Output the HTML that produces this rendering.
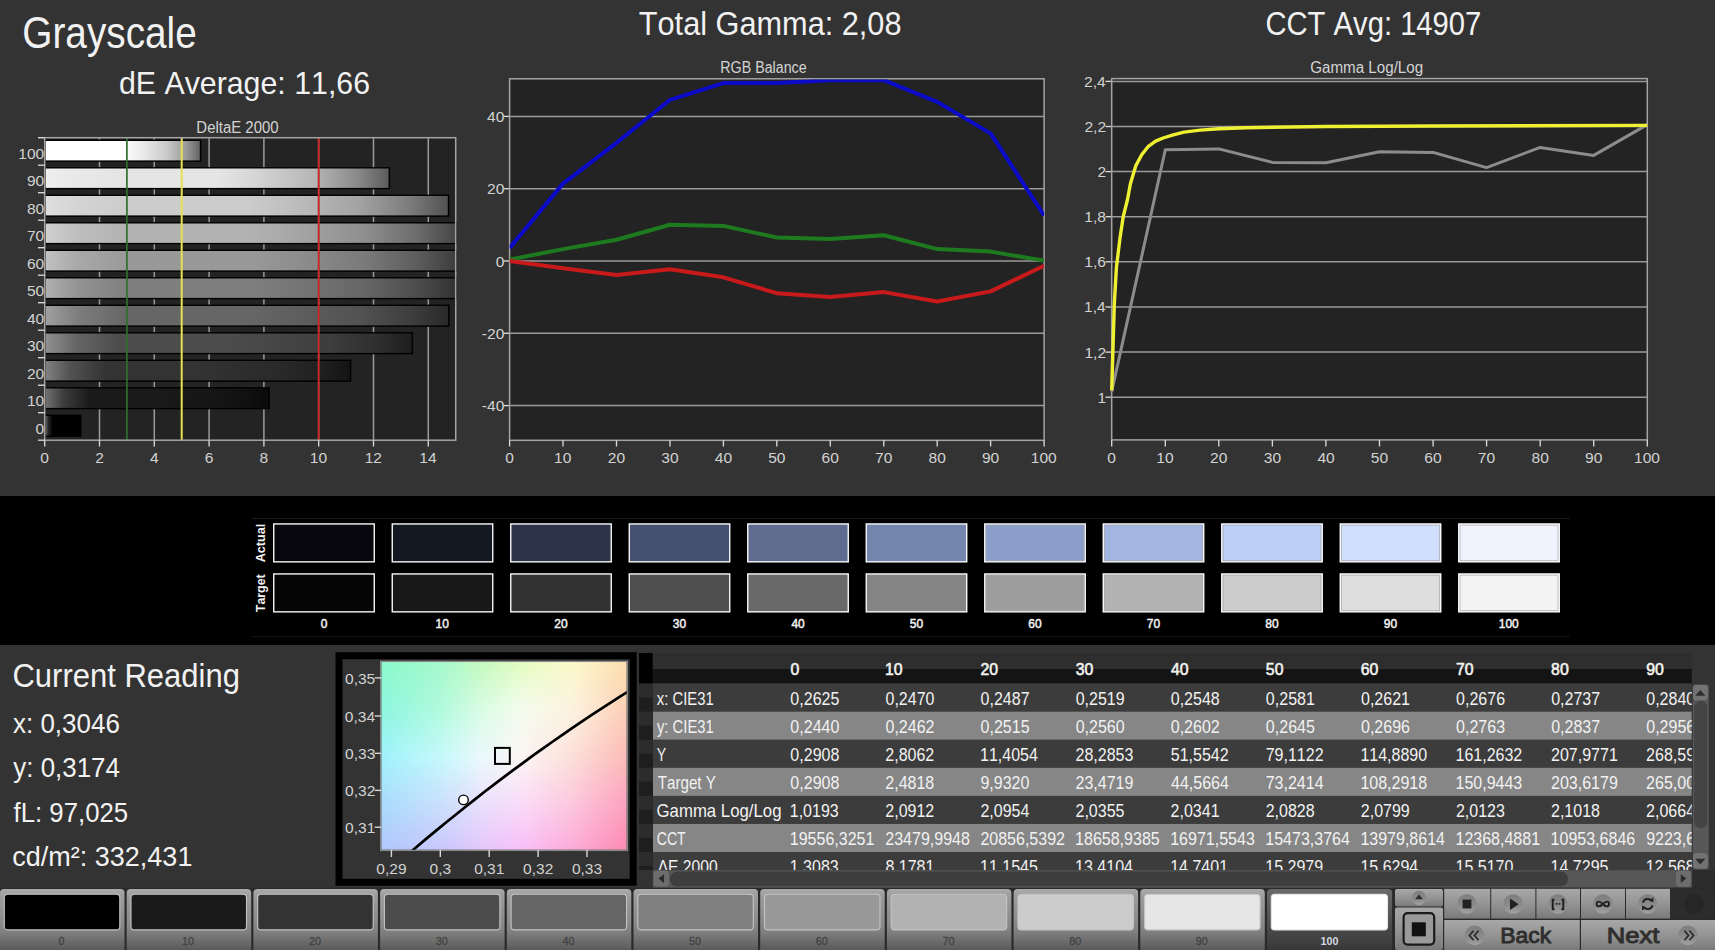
<!DOCTYPE html>
<html><head><meta charset="utf-8"><title>Grayscale</title>
<style>
html,body{margin:0;padding:0;background:#333;overflow:hidden;}
svg{display:block;}
text{font-family:"Liberation Sans",sans-serif;font-kerning:none;}
</style></head><body>
<svg width="1715" height="950" viewBox="0 0 1715 950">
<defs><linearGradient id="bg0" x1="0" x2="1" y1="0" y2="0"><stop offset="0" stop-color="#ffffff"/><stop offset="0.08" stop-color="#ffffff"/><stop offset="0.2" stop-color="#ffffff"/><stop offset="0.5" stop-color="#ffffff"/><stop offset="0.61" stop-color="#ededed"/><stop offset="0.78" stop-color="#cccccc"/><stop offset="0.91" stop-color="#999999"/><stop offset="1" stop-color="#666666"/></linearGradient><linearGradient id="bg1" x1="0" x2="1" y1="0" y2="0"><stop offset="0" stop-color="#efefef"/><stop offset="0.08" stop-color="#e9e9e9"/><stop offset="0.2" stop-color="#e5e5e5"/><stop offset="0.5" stop-color="#e5e5e5"/><stop offset="0.61" stop-color="#d5d5d5"/><stop offset="0.78" stop-color="#b7b7b7"/><stop offset="0.91" stop-color="#898989"/><stop offset="1" stop-color="#5c5c5c"/></linearGradient><linearGradient id="bg2" x1="0" x2="1" y1="0" y2="0"><stop offset="0" stop-color="#dfdfdf"/><stop offset="0.08" stop-color="#d4d4d4"/><stop offset="0.2" stop-color="#cccccc"/><stop offset="0.5" stop-color="#cccccc"/><stop offset="0.61" stop-color="#bebebe"/><stop offset="0.78" stop-color="#a3a3a3"/><stop offset="0.91" stop-color="#7a7a7a"/><stop offset="1" stop-color="#525252"/></linearGradient><linearGradient id="bg3" x1="0" x2="1" y1="0" y2="0"><stop offset="0" stop-color="#cfcfcf"/><stop offset="0.08" stop-color="#bebebe"/><stop offset="0.2" stop-color="#b2b2b2"/><stop offset="0.5" stop-color="#b2b2b2"/><stop offset="0.61" stop-color="#a6a6a6"/><stop offset="0.78" stop-color="#8e8e8e"/><stop offset="0.91" stop-color="#6b6b6b"/><stop offset="1" stop-color="#474747"/></linearGradient><linearGradient id="bg4" x1="0" x2="1" y1="0" y2="0"><stop offset="0" stop-color="#c0c0c0"/><stop offset="0.08" stop-color="#a8a8a8"/><stop offset="0.2" stop-color="#999999"/><stop offset="0.5" stop-color="#999999"/><stop offset="0.61" stop-color="#8e8e8e"/><stop offset="0.78" stop-color="#7a7a7a"/><stop offset="0.91" stop-color="#5c5c5c"/><stop offset="1" stop-color="#3d3d3d"/></linearGradient><linearGradient id="bg5" x1="0" x2="1" y1="0" y2="0"><stop offset="0" stop-color="#b0b0b0"/><stop offset="0.08" stop-color="#929292"/><stop offset="0.2" stop-color="#7f7f7f"/><stop offset="0.5" stop-color="#7f7f7f"/><stop offset="0.61" stop-color="#767676"/><stop offset="0.78" stop-color="#666666"/><stop offset="0.91" stop-color="#4c4c4c"/><stop offset="1" stop-color="#333333"/></linearGradient><linearGradient id="bg6" x1="0" x2="1" y1="0" y2="0"><stop offset="0" stop-color="#a0a0a0"/><stop offset="0.08" stop-color="#7d7d7d"/><stop offset="0.2" stop-color="#666666"/><stop offset="0.5" stop-color="#666666"/><stop offset="0.61" stop-color="#5f5f5f"/><stop offset="0.78" stop-color="#525252"/><stop offset="0.91" stop-color="#3d3d3d"/><stop offset="1" stop-color="#292929"/></linearGradient><linearGradient id="bg7" x1="0" x2="1" y1="0" y2="0"><stop offset="0" stop-color="#909090"/><stop offset="0.08" stop-color="#676767"/><stop offset="0.2" stop-color="#4c4c4c"/><stop offset="0.5" stop-color="#4c4c4c"/><stop offset="0.61" stop-color="#474747"/><stop offset="0.78" stop-color="#3d3d3d"/><stop offset="0.91" stop-color="#2e2e2e"/><stop offset="1" stop-color="#1e1e1e"/></linearGradient><linearGradient id="bg8" x1="0" x2="1" y1="0" y2="0"><stop offset="0" stop-color="#818181"/><stop offset="0.08" stop-color="#525252"/><stop offset="0.2" stop-color="#333333"/><stop offset="0.5" stop-color="#333333"/><stop offset="0.61" stop-color="#2f2f2f"/><stop offset="0.78" stop-color="#292929"/><stop offset="0.91" stop-color="#1f1f1f"/><stop offset="1" stop-color="#141414"/></linearGradient><linearGradient id="bg9" x1="0" x2="1" y1="0" y2="0"><stop offset="0" stop-color="#717171"/><stop offset="0.08" stop-color="#3c3c3c"/><stop offset="0.2" stop-color="#1a1a1a"/><stop offset="0.5" stop-color="#1a1a1a"/><stop offset="0.61" stop-color="#181818"/><stop offset="0.78" stop-color="#151515"/><stop offset="0.91" stop-color="#101010"/><stop offset="1" stop-color="#0a0a0a"/></linearGradient><linearGradient id="bg10" x1="0" x2="1" y1="0" y2="0"><stop offset="0" stop-color="#616161"/><stop offset="0.08" stop-color="#262626"/><stop offset="0.2" stop-color="#000000"/><stop offset="0.5" stop-color="#000000"/><stop offset="0.61" stop-color="#000000"/><stop offset="0.78" stop-color="#000000"/><stop offset="0.91" stop-color="#000000"/><stop offset="1" stop-color="#000000"/></linearGradient><clipPath id="rgbclip"><rect x="509.6" y="79.6" width="534.4999999999999" height="361.5"/></clipPath><clipPath id="cieclip"><rect x="381.3" y="662.0" width="245.40000000000003" height="187.79999999999995"/></clipPath><filter id="cieblur" x="-5%" y="-5%" width="110%" height="110%"><feGaussianBlur stdDeviation="3"/></filter><clipPath id="tclip"><rect x="652.8" y="653.0" width="1039.0" height="217.0"/></clipPath><linearGradient id="btn" x1="0" x2="0" y1="0" y2="1"><stop offset="0" stop-color="#ababab"/><stop offset="0.12" stop-color="#9c9c9c"/><stop offset="0.55" stop-color="#8a8a8a"/><stop offset="0.7" stop-color="#808080"/><stop offset="1" stop-color="#5a5a5a"/></linearGradient><linearGradient id="btnsel" x1="0" x2="0" y1="0" y2="1"><stop offset="0" stop-color="#6a6a6a"/><stop offset="0.6" stop-color="#4c4c4c"/><stop offset="1" stop-color="#383838"/></linearGradient><linearGradient id="cbtn" x1="0" x2="0" y1="0" y2="1"><stop offset="0" stop-color="#a8a8a8"/><stop offset="0.5" stop-color="#949494"/><stop offset="1" stop-color="#7a7a7a"/></linearGradient><linearGradient id="icirc" x1="0" x2="0" y1="0" y2="1"><stop offset="0" stop-color="#7e7e7e"/><stop offset="0.6" stop-color="#8c8c8c"/><stop offset="1" stop-color="#a2a2a2"/></linearGradient></defs>
<rect x="0" y="0" width="1715" height="496" fill="#333333"/>
<rect x="0" y="496" width="1715" height="149" fill="#000"/>
<rect x="0" y="645" width="1715" height="244" fill="#333333"/>
<text x="22.35" y="48.10" font-size="43.50" fill="#f2f2f2" textLength="174.37" lengthAdjust="spacingAndGlyphs">Grayscale</text>
<text x="118.93" y="93.80" font-size="32.00" fill="#f2f2f2" textLength="251.11" lengthAdjust="spacingAndGlyphs">dE Average: 11,66</text>
<text x="638.81" y="34.80" font-size="32.60" fill="#f2f2f2" textLength="262.72" lengthAdjust="spacingAndGlyphs">Total Gamma: 2,08</text>
<text x="1265.42" y="34.70" font-size="32.40" fill="#f2f2f2" textLength="215.95" lengthAdjust="spacingAndGlyphs">CCT Avg: 14907</text>
<text x="196.37" y="132.80" font-size="15.60" fill="#d4d4d4" textLength="82.21" lengthAdjust="spacingAndGlyphs">DeltaE 2000</text>
<text x="720.33" y="72.80" font-size="15.60" fill="#d4d4d4" textLength="86.30" lengthAdjust="spacingAndGlyphs">RGB Balance</text>
<text x="1310.24" y="72.80" font-size="15.60" fill="#d4d4d4" textLength="112.94" lengthAdjust="spacingAndGlyphs">Gamma Log/Log</text>
<rect x="44.7" y="137.7" width="411.0" height="302.5" fill="#232323"/>
<line x1="99.5" y1="137.7" x2="99.5" y2="440.2" stroke="#9a9a9a" stroke-width="1.5"/>
<line x1="154.3" y1="137.7" x2="154.3" y2="440.2" stroke="#9a9a9a" stroke-width="1.5"/>
<line x1="209.1" y1="137.7" x2="209.1" y2="440.2" stroke="#9a9a9a" stroke-width="1.5"/>
<line x1="263.9" y1="137.7" x2="263.9" y2="440.2" stroke="#9a9a9a" stroke-width="1.5"/>
<line x1="318.7" y1="137.7" x2="318.7" y2="440.2" stroke="#9a9a9a" stroke-width="1.5"/>
<line x1="373.5" y1="137.7" x2="373.5" y2="440.2" stroke="#9a9a9a" stroke-width="1.5"/>
<line x1="428.3" y1="137.7" x2="428.3" y2="440.2" stroke="#9a9a9a" stroke-width="1.5"/>
<rect x="45.2" y="139.6" width="156.1" height="22.2" fill="#000"/>
<rect x="45.7" y="141.0" width="154.1" height="19.4" fill="url(#bg0)"/>
<rect x="45.2" y="167.1" width="344.9" height="22.2" fill="#000"/>
<rect x="45.7" y="168.5" width="342.9" height="19.4" fill="url(#bg1)"/>
<rect x="45.2" y="194.6" width="404.1" height="22.2" fill="#000"/>
<rect x="45.7" y="196.0" width="402.1" height="19.4" fill="url(#bg2)"/>
<rect x="45.2" y="222.1" width="411.5" height="22.2" fill="#000"/>
<rect x="45.7" y="223.5" width="409.5" height="19.4" fill="url(#bg3)"/>
<rect x="45.2" y="249.6" width="411.5" height="22.2" fill="#000"/>
<rect x="45.7" y="251.0" width="409.5" height="19.4" fill="url(#bg4)"/>
<rect x="45.2" y="277.1" width="411.5" height="22.2" fill="#000"/>
<rect x="45.7" y="278.5" width="409.5" height="19.4" fill="url(#bg5)"/>
<rect x="45.2" y="304.6" width="404.4" height="22.2" fill="#000"/>
<rect x="45.7" y="306.0" width="402.4" height="19.4" fill="url(#bg6)"/>
<rect x="45.2" y="332.1" width="367.9" height="22.2" fill="#000"/>
<rect x="45.7" y="333.5" width="365.9" height="19.4" fill="url(#bg7)"/>
<rect x="45.2" y="359.6" width="306.1" height="22.2" fill="#000"/>
<rect x="45.7" y="361.0" width="304.1" height="19.4" fill="url(#bg8)"/>
<rect x="45.2" y="387.1" width="224.6" height="22.2" fill="#000"/>
<rect x="45.7" y="388.5" width="222.6" height="19.4" fill="url(#bg9)"/>
<rect x="45.2" y="414.6" width="36.3" height="22.2" fill="#000"/>
<rect x="45.7" y="416.0" width="34.3" height="19.4" fill="url(#bg10)"/>
<line x1="126.9" y1="137.7" x2="126.9" y2="440.2" stroke="#2f6f2f" stroke-width="1.7"/>
<line x1="181.7" y1="137.7" x2="181.7" y2="440.2" stroke="#e8e050" stroke-width="2.0"/>
<line x1="318.7" y1="137.7" x2="318.7" y2="440.2" stroke="#c42828" stroke-width="2.0"/>
<rect x="44.7" y="137.7" width="411.0" height="302.5" fill="none" stroke="#a4a4a4" stroke-width="1.5"/>
<line x1="38" y1="137.7" x2="44.7" y2="137.7" stroke="#d8d8d8" stroke-width="1.35"/>
<line x1="38" y1="165.2" x2="44.7" y2="165.2" stroke="#d8d8d8" stroke-width="1.35"/>
<line x1="38" y1="192.7" x2="44.7" y2="192.7" stroke="#d8d8d8" stroke-width="1.35"/>
<line x1="38" y1="220.2" x2="44.7" y2="220.2" stroke="#d8d8d8" stroke-width="1.35"/>
<line x1="38" y1="247.7" x2="44.7" y2="247.7" stroke="#d8d8d8" stroke-width="1.35"/>
<line x1="38" y1="275.2" x2="44.7" y2="275.2" stroke="#d8d8d8" stroke-width="1.35"/>
<line x1="38" y1="302.7" x2="44.7" y2="302.7" stroke="#d8d8d8" stroke-width="1.35"/>
<line x1="38" y1="330.2" x2="44.7" y2="330.2" stroke="#d8d8d8" stroke-width="1.35"/>
<line x1="38" y1="357.7" x2="44.7" y2="357.7" stroke="#d8d8d8" stroke-width="1.35"/>
<line x1="38" y1="385.2" x2="44.7" y2="385.2" stroke="#d8d8d8" stroke-width="1.35"/>
<line x1="38" y1="412.7" x2="44.7" y2="412.7" stroke="#d8d8d8" stroke-width="1.35"/>
<line x1="38" y1="440.2" x2="44.7" y2="440.2" stroke="#d8d8d8" stroke-width="1.35"/>
<line x1="44.7" y1="440.2" x2="44.7" y2="446.5" stroke="#d8d8d8" stroke-width="1.35"/>
<text x="40.38" y="463.30" font-size="15.10" fill="#d2d2d2" textLength="8.65" lengthAdjust="spacingAndGlyphs">0</text>
<line x1="99.5" y1="440.2" x2="99.5" y2="446.5" stroke="#d8d8d8" stroke-width="1.35"/>
<text x="95.18" y="463.30" font-size="15.10" fill="#d2d2d2" textLength="8.65" lengthAdjust="spacingAndGlyphs">2</text>
<line x1="154.3" y1="440.2" x2="154.3" y2="446.5" stroke="#d8d8d8" stroke-width="1.35"/>
<text x="150.02" y="463.30" font-size="15.10" fill="#d2d2d2" textLength="8.65" lengthAdjust="spacingAndGlyphs">4</text>
<line x1="209.1" y1="440.2" x2="209.1" y2="446.5" stroke="#d8d8d8" stroke-width="1.35"/>
<text x="204.72" y="463.30" font-size="15.10" fill="#d2d2d2" textLength="8.65" lengthAdjust="spacingAndGlyphs">6</text>
<line x1="263.9" y1="440.2" x2="263.9" y2="446.5" stroke="#d8d8d8" stroke-width="1.35"/>
<text x="259.58" y="463.30" font-size="15.10" fill="#d2d2d2" textLength="8.65" lengthAdjust="spacingAndGlyphs">8</text>
<line x1="318.7" y1="440.2" x2="318.7" y2="446.5" stroke="#d8d8d8" stroke-width="1.35"/>
<text x="309.76" y="463.30" font-size="15.10" fill="#d2d2d2" textLength="17.30" lengthAdjust="spacingAndGlyphs">10</text>
<line x1="373.5" y1="440.2" x2="373.5" y2="446.5" stroke="#d8d8d8" stroke-width="1.35"/>
<text x="364.65" y="463.30" font-size="15.10" fill="#d2d2d2" textLength="17.30" lengthAdjust="spacingAndGlyphs">12</text>
<line x1="428.3" y1="440.2" x2="428.3" y2="446.5" stroke="#d8d8d8" stroke-width="1.35"/>
<text x="419.29" y="463.30" font-size="15.10" fill="#d2d2d2" textLength="17.30" lengthAdjust="spacingAndGlyphs">14</text>
<text x="18.26" y="158.85" font-size="15.10" fill="#d2d2d2" textLength="25.95" lengthAdjust="spacingAndGlyphs">100</text>
<text x="26.91" y="186.35" font-size="15.10" fill="#d2d2d2" textLength="17.30" lengthAdjust="spacingAndGlyphs">90</text>
<text x="26.91" y="213.85" font-size="15.10" fill="#d2d2d2" textLength="17.30" lengthAdjust="spacingAndGlyphs">80</text>
<text x="26.91" y="241.35" font-size="15.10" fill="#d2d2d2" textLength="17.30" lengthAdjust="spacingAndGlyphs">70</text>
<text x="26.91" y="268.85" font-size="15.10" fill="#d2d2d2" textLength="17.30" lengthAdjust="spacingAndGlyphs">60</text>
<text x="26.91" y="296.35" font-size="15.10" fill="#d2d2d2" textLength="17.30" lengthAdjust="spacingAndGlyphs">50</text>
<text x="26.91" y="323.85" font-size="15.10" fill="#d2d2d2" textLength="17.30" lengthAdjust="spacingAndGlyphs">40</text>
<text x="26.91" y="351.35" font-size="15.10" fill="#d2d2d2" textLength="17.30" lengthAdjust="spacingAndGlyphs">30</text>
<text x="26.91" y="378.85" font-size="15.10" fill="#d2d2d2" textLength="17.30" lengthAdjust="spacingAndGlyphs">20</text>
<text x="26.91" y="406.35" font-size="15.10" fill="#d2d2d2" textLength="17.30" lengthAdjust="spacingAndGlyphs">10</text>
<text x="35.56" y="433.85" font-size="15.10" fill="#d2d2d2" textLength="8.65" lengthAdjust="spacingAndGlyphs">0</text>
<rect x="509.6" y="78.8" width="534.4999999999999" height="361.5" fill="#232323"/>
<line x1="509.6" y1="116.4" x2="1044.1" y2="116.4" stroke="#9a9a9a" stroke-width="1.5"/>
<line x1="503.7" y1="116.4" x2="509.6" y2="116.4" stroke="#d8d8d8" stroke-width="1.35"/>
<text x="487.01" y="121.90" font-size="15.10" fill="#d2d2d2" textLength="17.30" lengthAdjust="spacingAndGlyphs">40</text>
<line x1="509.6" y1="188.7" x2="1044.1" y2="188.7" stroke="#9a9a9a" stroke-width="1.5"/>
<line x1="503.7" y1="188.7" x2="509.6" y2="188.7" stroke="#d8d8d8" stroke-width="1.35"/>
<text x="487.01" y="194.20" font-size="15.10" fill="#d2d2d2" textLength="17.30" lengthAdjust="spacingAndGlyphs">20</text>
<line x1="509.6" y1="261.0" x2="1044.1" y2="261.0" stroke="#9a9a9a" stroke-width="1.5"/>
<line x1="503.7" y1="261.0" x2="509.6" y2="261.0" stroke="#d8d8d8" stroke-width="1.35"/>
<text x="495.66" y="266.50" font-size="15.10" fill="#d2d2d2" textLength="8.65" lengthAdjust="spacingAndGlyphs">0</text>
<line x1="509.6" y1="333.3" x2="1044.1" y2="333.3" stroke="#9a9a9a" stroke-width="1.5"/>
<line x1="503.7" y1="333.3" x2="509.6" y2="333.3" stroke="#d8d8d8" stroke-width="1.35"/>
<text x="481.83" y="338.80" font-size="15.10" fill="#d2d2d2" textLength="22.48" lengthAdjust="spacingAndGlyphs">-20</text>
<line x1="509.6" y1="405.6" x2="1044.1" y2="405.6" stroke="#9a9a9a" stroke-width="1.5"/>
<line x1="503.7" y1="405.6" x2="509.6" y2="405.6" stroke="#d8d8d8" stroke-width="1.35"/>
<text x="481.83" y="411.10" font-size="15.10" fill="#d2d2d2" textLength="22.48" lengthAdjust="spacingAndGlyphs">-40</text>
<rect x="509.6" y="78.8" width="534.4999999999999" height="361.5" fill="none" stroke="#a4a4a4" stroke-width="1.5"/>
<line x1="509.6" y1="440.3" x2="509.6" y2="446.5" stroke="#d8d8d8" stroke-width="1.35"/>
<text x="505.28" y="463.30" font-size="15.10" fill="#d2d2d2" textLength="8.65" lengthAdjust="spacingAndGlyphs">0</text>
<line x1="563.0" y1="440.3" x2="563.0" y2="446.5" stroke="#d8d8d8" stroke-width="1.35"/>
<text x="554.11" y="463.30" font-size="15.10" fill="#d2d2d2" textLength="17.30" lengthAdjust="spacingAndGlyphs">10</text>
<line x1="616.5" y1="440.3" x2="616.5" y2="446.5" stroke="#d8d8d8" stroke-width="1.35"/>
<text x="607.76" y="463.30" font-size="15.10" fill="#d2d2d2" textLength="17.30" lengthAdjust="spacingAndGlyphs">20</text>
<line x1="670.0" y1="440.3" x2="670.0" y2="446.5" stroke="#d8d8d8" stroke-width="1.35"/>
<text x="661.31" y="463.30" font-size="15.10" fill="#d2d2d2" textLength="17.30" lengthAdjust="spacingAndGlyphs">30</text>
<line x1="723.4" y1="440.3" x2="723.4" y2="446.5" stroke="#d8d8d8" stroke-width="1.35"/>
<text x="714.88" y="463.30" font-size="15.10" fill="#d2d2d2" textLength="17.30" lengthAdjust="spacingAndGlyphs">40</text>
<line x1="776.8" y1="440.3" x2="776.8" y2="446.5" stroke="#d8d8d8" stroke-width="1.35"/>
<text x="768.19" y="463.30" font-size="15.10" fill="#d2d2d2" textLength="17.30" lengthAdjust="spacingAndGlyphs">50</text>
<line x1="830.3" y1="440.3" x2="830.3" y2="446.5" stroke="#d8d8d8" stroke-width="1.35"/>
<text x="821.56" y="463.30" font-size="15.10" fill="#d2d2d2" textLength="17.30" lengthAdjust="spacingAndGlyphs">60</text>
<line x1="883.8" y1="440.3" x2="883.8" y2="446.5" stroke="#d8d8d8" stroke-width="1.35"/>
<text x="875.01" y="463.30" font-size="15.10" fill="#d2d2d2" textLength="17.30" lengthAdjust="spacingAndGlyphs">70</text>
<line x1="937.2" y1="440.3" x2="937.2" y2="446.5" stroke="#d8d8d8" stroke-width="1.35"/>
<text x="928.52" y="463.30" font-size="15.10" fill="#d2d2d2" textLength="17.30" lengthAdjust="spacingAndGlyphs">80</text>
<line x1="990.6" y1="440.3" x2="990.6" y2="446.5" stroke="#d8d8d8" stroke-width="1.35"/>
<text x="981.94" y="463.30" font-size="15.10" fill="#d2d2d2" textLength="17.30" lengthAdjust="spacingAndGlyphs">90</text>
<line x1="1044.1" y1="440.3" x2="1044.1" y2="446.5" stroke="#d8d8d8" stroke-width="1.35"/>
<text x="1030.84" y="463.30" font-size="15.10" fill="#d2d2d2" textLength="25.95" lengthAdjust="spacingAndGlyphs">100</text>
<polyline points="509.6,259.6 563.0,249.1 616.5,239.7 670.0,224.8 723.4,225.9 776.8,237.5 830.3,238.9 883.8,235.3 937.2,249.1 990.6,251.6 1044.1,260.6" fill="none" stroke="#1e7a1e" stroke-width="4" stroke-linejoin="round" clip-path="url(#rgbclip)"/>
<polyline points="509.6,261.0 563.0,268.2 616.5,275.1 670.0,269.3 723.4,277.3 776.8,293.2 830.3,297.1 883.8,292.1 937.2,301.5 990.6,291.4 1044.1,265.7" fill="none" stroke="#c81a1a" stroke-width="4" stroke-linejoin="round" clip-path="url(#rgbclip)"/>
<polyline points="509.6,248.0 563.0,183.6 616.5,142.8 670.0,99.8 723.4,83.1 776.8,83.1 830.3,80.2 883.8,80.2 937.2,101.9 990.6,133.4 1044.1,215.5" fill="none" stroke="#0a0ac8" stroke-width="4" stroke-linejoin="round" clip-path="url(#rgbclip)"/>
<rect x="1111.7" y="78.6" width="535.5999999999999" height="361.29999999999995" fill="#232323"/>
<line x1="1111.7" y1="81.4" x2="1647.3" y2="81.4" stroke="#9a9a9a" stroke-width="1.5"/>
<line x1="1105.5" y1="81.4" x2="1111.7" y2="81.4" stroke="#d8d8d8" stroke-width="1.35"/>
<text x="1084.13" y="86.86" font-size="15.10" fill="#d2d2d2" textLength="21.62" lengthAdjust="spacingAndGlyphs">2,4</text>
<line x1="1111.7" y1="126.5" x2="1647.3" y2="126.5" stroke="#9a9a9a" stroke-width="1.5"/>
<line x1="1105.5" y1="126.5" x2="1111.7" y2="126.5" stroke="#d8d8d8" stroke-width="1.35"/>
<text x="1084.46" y="131.98" font-size="15.10" fill="#d2d2d2" textLength="21.62" lengthAdjust="spacingAndGlyphs">2,2</text>
<line x1="1111.7" y1="171.6" x2="1647.3" y2="171.6" stroke="#9a9a9a" stroke-width="1.5"/>
<line x1="1105.5" y1="171.6" x2="1111.7" y2="171.6" stroke="#d8d8d8" stroke-width="1.35"/>
<text x="1097.43" y="177.10" font-size="15.10" fill="#d2d2d2" textLength="8.65" lengthAdjust="spacingAndGlyphs">2</text>
<line x1="1111.7" y1="216.7" x2="1647.3" y2="216.7" stroke="#9a9a9a" stroke-width="1.5"/>
<line x1="1105.5" y1="216.7" x2="1111.7" y2="216.7" stroke="#d8d8d8" stroke-width="1.35"/>
<text x="1084.36" y="222.22" font-size="15.10" fill="#d2d2d2" textLength="21.62" lengthAdjust="spacingAndGlyphs">1,8</text>
<line x1="1111.7" y1="261.8" x2="1647.3" y2="261.8" stroke="#9a9a9a" stroke-width="1.5"/>
<line x1="1105.5" y1="261.8" x2="1111.7" y2="261.8" stroke="#d8d8d8" stroke-width="1.35"/>
<text x="1084.36" y="267.34" font-size="15.10" fill="#d2d2d2" textLength="21.62" lengthAdjust="spacingAndGlyphs">1,6</text>
<line x1="1111.7" y1="307.0" x2="1647.3" y2="307.0" stroke="#9a9a9a" stroke-width="1.5"/>
<line x1="1105.5" y1="307.0" x2="1111.7" y2="307.0" stroke="#d8d8d8" stroke-width="1.35"/>
<text x="1084.13" y="312.46" font-size="15.10" fill="#d2d2d2" textLength="21.62" lengthAdjust="spacingAndGlyphs">1,4</text>
<line x1="1111.7" y1="352.1" x2="1647.3" y2="352.1" stroke="#9a9a9a" stroke-width="1.5"/>
<line x1="1105.5" y1="352.1" x2="1111.7" y2="352.1" stroke="#d8d8d8" stroke-width="1.35"/>
<text x="1084.46" y="357.58" font-size="15.10" fill="#d2d2d2" textLength="21.62" lengthAdjust="spacingAndGlyphs">1,2</text>
<line x1="1111.7" y1="397.2" x2="1647.3" y2="397.2" stroke="#9a9a9a" stroke-width="1.5"/>
<line x1="1105.5" y1="397.2" x2="1111.7" y2="397.2" stroke="#d8d8d8" stroke-width="1.35"/>
<text x="1097.41" y="402.70" font-size="15.10" fill="#d2d2d2" textLength="8.65" lengthAdjust="spacingAndGlyphs">1</text>
<rect x="1111.7" y="78.6" width="535.5999999999999" height="361.29999999999995" fill="none" stroke="#a4a4a4" stroke-width="1.5"/>
<line x1="1111.7" y1="439.9" x2="1111.7" y2="446.5" stroke="#d8d8d8" stroke-width="1.35"/>
<text x="1107.38" y="463.30" font-size="15.10" fill="#d2d2d2" textLength="8.65" lengthAdjust="spacingAndGlyphs">0</text>
<line x1="1165.3" y1="439.9" x2="1165.3" y2="446.5" stroke="#d8d8d8" stroke-width="1.35"/>
<text x="1156.32" y="463.30" font-size="15.10" fill="#d2d2d2" textLength="17.30" lengthAdjust="spacingAndGlyphs">10</text>
<line x1="1218.8" y1="439.9" x2="1218.8" y2="446.5" stroke="#d8d8d8" stroke-width="1.35"/>
<text x="1210.08" y="463.30" font-size="15.10" fill="#d2d2d2" textLength="17.30" lengthAdjust="spacingAndGlyphs">20</text>
<line x1="1272.4" y1="439.9" x2="1272.4" y2="446.5" stroke="#d8d8d8" stroke-width="1.35"/>
<text x="1263.74" y="463.30" font-size="15.10" fill="#d2d2d2" textLength="17.30" lengthAdjust="spacingAndGlyphs">30</text>
<line x1="1325.9" y1="439.9" x2="1325.9" y2="446.5" stroke="#d8d8d8" stroke-width="1.35"/>
<text x="1317.42" y="463.30" font-size="15.10" fill="#d2d2d2" textLength="17.30" lengthAdjust="spacingAndGlyphs">40</text>
<line x1="1379.5" y1="439.9" x2="1379.5" y2="446.5" stroke="#d8d8d8" stroke-width="1.35"/>
<text x="1370.84" y="463.30" font-size="15.10" fill="#d2d2d2" textLength="17.30" lengthAdjust="spacingAndGlyphs">50</text>
<line x1="1433.1" y1="439.9" x2="1433.1" y2="446.5" stroke="#d8d8d8" stroke-width="1.35"/>
<text x="1424.32" y="463.30" font-size="15.10" fill="#d2d2d2" textLength="17.30" lengthAdjust="spacingAndGlyphs">60</text>
<line x1="1486.6" y1="439.9" x2="1486.6" y2="446.5" stroke="#d8d8d8" stroke-width="1.35"/>
<text x="1477.88" y="463.30" font-size="15.10" fill="#d2d2d2" textLength="17.30" lengthAdjust="spacingAndGlyphs">70</text>
<line x1="1540.2" y1="439.9" x2="1540.2" y2="446.5" stroke="#d8d8d8" stroke-width="1.35"/>
<text x="1531.50" y="463.30" font-size="15.10" fill="#d2d2d2" textLength="17.30" lengthAdjust="spacingAndGlyphs">80</text>
<line x1="1593.7" y1="439.9" x2="1593.7" y2="446.5" stroke="#d8d8d8" stroke-width="1.35"/>
<text x="1585.03" y="463.30" font-size="15.10" fill="#d2d2d2" textLength="17.30" lengthAdjust="spacingAndGlyphs">90</text>
<line x1="1647.3" y1="439.9" x2="1647.3" y2="446.5" stroke="#d8d8d8" stroke-width="1.35"/>
<text x="1634.04" y="463.30" font-size="15.10" fill="#d2d2d2" textLength="25.95" lengthAdjust="spacingAndGlyphs">100</text>
<polyline points="1111.7,391.6 1165.3,149.8 1218.8,148.9 1272.4,162.4 1325.9,162.7 1379.5,151.7 1433.1,152.4 1486.6,167.6 1540.2,147.4 1593.7,155.4 1647.3,124.6" fill="none" stroke="#8c8c8c" stroke-width="3" stroke-linejoin="round"/>
<polyline points="1111.7,390.4 1113.0,347.6 1114.3,304.7 1116.4,267.5 1120.0,237.9 1123.2,216.7 1127.4,200.0 1130.4,183.8 1135.8,165.7 1141.7,154.7 1148.4,146.3 1155.6,141.1 1163.1,138.0 1173.3,134.8 1184.0,132.1 1200.1,130.1 1218.8,128.7 1245.6,127.8 1272.4,127.2 1325.9,126.5 1433.1,126.0 1647.3,125.4" fill="none" stroke="#f0f032" stroke-width="3.4" stroke-linejoin="round"/>
<line x1="251.5" y1="518.6" x2="1569.5" y2="518.6" stroke="#1e1e1e" stroke-width="1"/>
<line x1="251.5" y1="636.6" x2="1569.5" y2="636.6" stroke="#161616" stroke-width="1"/>
<rect x="273.75" y="523.95" width="100.5" height="37.9" fill="#06060c" stroke="#ffffff" stroke-width="1.35"/>
<rect x="273.75" y="573.95" width="100.5" height="37.9" fill="#050505" stroke="#ffffff" stroke-width="1.35"/>
<text x="320.66" y="627.90" font-size="12.00" fill="#f4f4f4" textLength="6.67" lengthAdjust="spacingAndGlyphs" stroke="#f4f4f4" stroke-width="0.45">0</text>
<rect x="392.25" y="523.95" width="100.5" height="37.9" fill="#131822" stroke="#ffffff" stroke-width="1.35"/>
<rect x="392.25" y="573.95" width="100.5" height="37.9" fill="#181818" stroke="#ffffff" stroke-width="1.35"/>
<text x="435.60" y="627.90" font-size="12.00" fill="#f4f4f4" textLength="13.35" lengthAdjust="spacingAndGlyphs" stroke="#f4f4f4" stroke-width="0.45">10</text>
<rect x="510.75" y="523.95" width="100.5" height="37.9" fill="#2b3449" stroke="#ffffff" stroke-width="1.35"/>
<rect x="510.75" y="573.95" width="100.5" height="37.9" fill="#323232" stroke="#ffffff" stroke-width="1.35"/>
<text x="554.26" y="627.90" font-size="12.00" fill="#f4f4f4" textLength="13.35" lengthAdjust="spacingAndGlyphs" stroke="#f4f4f4" stroke-width="0.45">20</text>
<rect x="629.25" y="523.95" width="100.5" height="37.9" fill="#45516f" stroke="#ffffff" stroke-width="1.35"/>
<rect x="629.25" y="573.95" width="100.5" height="37.9" fill="#4f4f4f" stroke="#ffffff" stroke-width="1.35"/>
<text x="672.83" y="627.90" font-size="12.00" fill="#f4f4f4" textLength="13.35" lengthAdjust="spacingAndGlyphs" stroke="#f4f4f4" stroke-width="0.45">30</text>
<rect x="747.75" y="523.95" width="100.5" height="37.9" fill="#5f6c8f" stroke="#ffffff" stroke-width="1.35"/>
<rect x="747.75" y="573.95" width="100.5" height="37.9" fill="#696969" stroke="#ffffff" stroke-width="1.35"/>
<text x="791.42" y="627.90" font-size="12.00" fill="#f4f4f4" textLength="13.35" lengthAdjust="spacingAndGlyphs" stroke="#f4f4f4" stroke-width="0.45">40</text>
<rect x="866.25" y="523.95" width="100.5" height="37.9" fill="#7486ad" stroke="#ffffff" stroke-width="1.35"/>
<rect x="866.25" y="573.95" width="100.5" height="37.9" fill="#858585" stroke="#ffffff" stroke-width="1.35"/>
<text x="909.82" y="627.90" font-size="12.00" fill="#f4f4f4" textLength="13.35" lengthAdjust="spacingAndGlyphs" stroke="#f4f4f4" stroke-width="0.45">50</text>
<rect x="984.75" y="523.95" width="100.5" height="37.9" fill="#8c9ecb" stroke="#ffffff" stroke-width="1.35"/>
<rect x="986.00" y="525.20" width="98" height="35.4" fill="none" stroke="#a8a8a8" stroke-width="1" opacity="0.7"/>
<rect x="984.75" y="573.95" width="100.5" height="37.9" fill="#9e9e9e" stroke="#ffffff" stroke-width="1.35"/>
<rect x="986.00" y="575.20" width="98" height="35.4" fill="none" stroke="#a8a8a8" stroke-width="1" opacity="0.7"/>
<text x="1028.26" y="627.90" font-size="12.00" fill="#f4f4f4" textLength="13.35" lengthAdjust="spacingAndGlyphs" stroke="#f4f4f4" stroke-width="0.45">60</text>
<rect x="1103.25" y="523.95" width="100.5" height="37.9" fill="#a3b6e2" stroke="#ffffff" stroke-width="1.35"/>
<rect x="1104.50" y="525.20" width="98" height="35.4" fill="none" stroke="#a8a8a8" stroke-width="1" opacity="0.7"/>
<rect x="1103.25" y="573.95" width="100.5" height="37.9" fill="#b3b3b3" stroke="#ffffff" stroke-width="1.35"/>
<rect x="1104.50" y="575.20" width="98" height="35.4" fill="none" stroke="#a8a8a8" stroke-width="1" opacity="0.7"/>
<text x="1146.75" y="627.90" font-size="12.00" fill="#f4f4f4" textLength="13.35" lengthAdjust="spacingAndGlyphs" stroke="#f4f4f4" stroke-width="0.45">70</text>
<rect x="1221.75" y="523.95" width="100.5" height="37.9" fill="#bccff7" stroke="#ffffff" stroke-width="1.35"/>
<rect x="1223.00" y="525.20" width="98" height="35.4" fill="none" stroke="#a8a8a8" stroke-width="1" opacity="0.7"/>
<rect x="1221.75" y="573.95" width="100.5" height="37.9" fill="#cdcdcd" stroke="#ffffff" stroke-width="1.35"/>
<rect x="1223.00" y="575.20" width="98" height="35.4" fill="none" stroke="#a8a8a8" stroke-width="1" opacity="0.7"/>
<text x="1265.30" y="627.90" font-size="12.00" fill="#f4f4f4" textLength="13.35" lengthAdjust="spacingAndGlyphs" stroke="#f4f4f4" stroke-width="0.45">80</text>
<rect x="1340.25" y="523.95" width="100.5" height="37.9" fill="#d1dffe" stroke="#ffffff" stroke-width="1.35"/>
<rect x="1341.50" y="525.20" width="98" height="35.4" fill="none" stroke="#a8a8a8" stroke-width="1" opacity="0.7"/>
<rect x="1340.25" y="573.95" width="100.5" height="37.9" fill="#dedede" stroke="#ffffff" stroke-width="1.35"/>
<rect x="1341.50" y="575.20" width="98" height="35.4" fill="none" stroke="#a8a8a8" stroke-width="1" opacity="0.7"/>
<text x="1383.78" y="627.90" font-size="12.00" fill="#f4f4f4" textLength="13.35" lengthAdjust="spacingAndGlyphs" stroke="#f4f4f4" stroke-width="0.45">90</text>
<rect x="1458.75" y="523.95" width="100.5" height="37.9" fill="#f0f2fe" stroke="#ffffff" stroke-width="1.35"/>
<rect x="1460.00" y="525.20" width="98" height="35.4" fill="none" stroke="#a8a8a8" stroke-width="1" opacity="0.7"/>
<rect x="1458.75" y="573.95" width="100.5" height="37.9" fill="#f3f3f3" stroke="#ffffff" stroke-width="1.35"/>
<rect x="1460.00" y="575.20" width="98" height="35.4" fill="none" stroke="#a8a8a8" stroke-width="1" opacity="0.7"/>
<text x="1498.77" y="627.90" font-size="12.00" fill="#f4f4f4" textLength="20.02" lengthAdjust="spacingAndGlyphs" stroke="#f4f4f4" stroke-width="0.45">100</text>
<g transform="translate(265.4,562.0) rotate(-90)"><text x="-0.32" y="0.00" font-size="12.60" fill="#f4f4f4" font-weight="bold" textLength="38.71" lengthAdjust="spacingAndGlyphs">Actual</text></g>
<g transform="translate(265.4,612.0) rotate(-90)"><text x="-0.14" y="0.00" font-size="12.60" fill="#f4f4f4" font-weight="bold" textLength="37.79" lengthAdjust="spacingAndGlyphs">Target</text></g>
<text x="12.42" y="687.20" font-size="33.00" fill="#f2f2f2" textLength="227.57" lengthAdjust="spacingAndGlyphs">Current Reading</text>
<text x="13.01" y="732.90" font-size="27.00" fill="#f2f2f2" textLength="106.83" lengthAdjust="spacingAndGlyphs">x: 0,3046</text>
<text x="13.34" y="777.10" font-size="27.00" fill="#f2f2f2" textLength="106.62" lengthAdjust="spacingAndGlyphs">y: 0,3174</text>
<text x="13.54" y="822.10" font-size="27.00" fill="#f2f2f2" textLength="114.65" lengthAdjust="spacingAndGlyphs">fL: 97,025</text>
<text x="12.25" y="866.30" font-size="27.00" fill="#f2f2f2" textLength="180.17" lengthAdjust="spacingAndGlyphs">cd/m²: 332,431</text>
<rect x="339" y="655.7" width="294.2" height="226.6" fill="#333" stroke="#000" stroke-width="7"/>
<g clip-path="url(#cieclip)"><g filter="url(#cieblur)"><rect x="367.3" y="648.0" width="7.3" height="7.3" fill="#86fdc7"/><rect x="374.3" y="648.0" width="7.3" height="7.3" fill="#89fdc7"/><rect x="381.3" y="648.0" width="7.3" height="7.3" fill="#8cfdc7"/><rect x="388.3" y="648.0" width="7.3" height="7.3" fill="#8ffdc8"/><rect x="395.3" y="648.0" width="7.3" height="7.3" fill="#92fcc8"/><rect x="402.3" y="648.0" width="7.3" height="7.3" fill="#95fcc9"/><rect x="409.3" y="648.0" width="7.3" height="7.3" fill="#98fcc9"/><rect x="416.3" y="648.0" width="7.3" height="7.3" fill="#9bfcca"/><rect x="423.3" y="648.0" width="7.3" height="7.3" fill="#9efcca"/><rect x="430.3" y="648.0" width="7.3" height="7.3" fill="#a1fcca"/><rect x="437.3" y="648.0" width="7.3" height="7.3" fill="#a4fccb"/><rect x="444.3" y="648.0" width="7.3" height="7.3" fill="#a9fcc7"/><rect x="451.3" y="648.0" width="7.3" height="7.3" fill="#aefcc4"/><rect x="458.3" y="648.0" width="7.3" height="7.3" fill="#b4fcc1"/><rect x="465.3" y="648.0" width="7.3" height="7.3" fill="#b9fcbe"/><rect x="472.3" y="648.0" width="7.3" height="7.3" fill="#befcbb"/><rect x="479.3" y="648.0" width="7.3" height="7.3" fill="#c3fcb8"/><rect x="486.3" y="648.0" width="7.3" height="7.3" fill="#c9fdb9"/><rect x="493.3" y="648.0" width="7.3" height="7.3" fill="#cefdb9"/><rect x="500.3" y="648.0" width="7.3" height="7.3" fill="#d4feb9"/><rect x="507.3" y="648.0" width="7.3" height="7.3" fill="#dafeba"/><rect x="514.3" y="648.0" width="7.3" height="7.3" fill="#e0ffba"/><rect x="521.3" y="648.0" width="7.3" height="7.3" fill="#e5ffbb"/><rect x="528.3" y="648.0" width="7.3" height="7.3" fill="#e9ffbd"/><rect x="535.3" y="648.0" width="7.3" height="7.3" fill="#ecffc0"/><rect x="542.3" y="648.0" width="7.3" height="7.3" fill="#f0fec2"/><rect x="549.3" y="648.0" width="7.3" height="7.3" fill="#f4fec4"/><rect x="556.3" y="648.0" width="7.3" height="7.3" fill="#f8fec6"/><rect x="563.3" y="648.0" width="7.3" height="7.3" fill="#fcfec8"/><rect x="570.3" y="648.0" width="7.3" height="7.3" fill="#fffdc9"/><rect x="577.3" y="648.0" width="7.3" height="7.3" fill="#fffac5"/><rect x="584.3" y="648.0" width="7.3" height="7.3" fill="#fff7c2"/><rect x="591.3" y="648.0" width="7.3" height="7.3" fill="#fff3bf"/><rect x="598.3" y="648.0" width="7.3" height="7.3" fill="#fff0bb"/><rect x="605.3" y="648.0" width="7.3" height="7.3" fill="#ffedb8"/><rect x="612.3" y="648.0" width="7.3" height="7.3" fill="#ffeab5"/><rect x="619.3" y="648.0" width="7.3" height="7.3" fill="#ffe6b1"/><rect x="626.3" y="648.0" width="7.3" height="7.3" fill="#ffe3ae"/><rect x="633.3" y="648.0" width="7.3" height="7.3" fill="#ffe0ab"/><rect x="640.3" y="648.0" width="7.3" height="7.3" fill="#ffdda7"/><rect x="367.3" y="655.0" width="7.3" height="7.3" fill="#86fcca"/><rect x="374.3" y="655.0" width="7.3" height="7.3" fill="#8afcca"/><rect x="381.3" y="655.0" width="7.3" height="7.3" fill="#8dfccb"/><rect x="388.3" y="655.0" width="7.3" height="7.3" fill="#90fccb"/><rect x="395.3" y="655.0" width="7.3" height="7.3" fill="#93fccb"/><rect x="402.3" y="655.0" width="7.3" height="7.3" fill="#96fccc"/><rect x="409.3" y="655.0" width="7.3" height="7.3" fill="#99fccc"/><rect x="416.3" y="655.0" width="7.3" height="7.3" fill="#9dfccc"/><rect x="423.3" y="655.0" width="7.3" height="7.3" fill="#a0fccd"/><rect x="430.3" y="655.0" width="7.3" height="7.3" fill="#a3fccd"/><rect x="437.3" y="655.0" width="7.3" height="7.3" fill="#a6fccd"/><rect x="444.3" y="655.0" width="7.3" height="7.3" fill="#abfccb"/><rect x="451.3" y="655.0" width="7.3" height="7.3" fill="#b1fcc8"/><rect x="458.3" y="655.0" width="7.3" height="7.3" fill="#b6fcc5"/><rect x="465.3" y="655.0" width="7.3" height="7.3" fill="#bbfcc3"/><rect x="472.3" y="655.0" width="7.3" height="7.3" fill="#c1fdc0"/><rect x="479.3" y="655.0" width="7.3" height="7.3" fill="#c6fdbe"/><rect x="486.3" y="655.0" width="7.3" height="7.3" fill="#ccfdbf"/><rect x="493.3" y="655.0" width="7.3" height="7.3" fill="#d1febf"/><rect x="500.3" y="655.0" width="7.3" height="7.3" fill="#d7fec0"/><rect x="507.3" y="655.0" width="7.3" height="7.3" fill="#ddfec0"/><rect x="514.3" y="655.0" width="7.3" height="7.3" fill="#e2ffc1"/><rect x="521.3" y="655.0" width="7.3" height="7.3" fill="#e7ffc2"/><rect x="528.3" y="655.0" width="7.3" height="7.3" fill="#ebffc3"/><rect x="535.3" y="655.0" width="7.3" height="7.3" fill="#eefec5"/><rect x="542.3" y="655.0" width="7.3" height="7.3" fill="#f2fec7"/><rect x="549.3" y="655.0" width="7.3" height="7.3" fill="#f5fec8"/><rect x="556.3" y="655.0" width="7.3" height="7.3" fill="#f9fdca"/><rect x="563.3" y="655.0" width="7.3" height="7.3" fill="#fcfdcb"/><rect x="570.3" y="655.0" width="7.3" height="7.3" fill="#fffccc"/><rect x="577.3" y="655.0" width="7.3" height="7.3" fill="#fff9c8"/><rect x="584.3" y="655.0" width="7.3" height="7.3" fill="#fff5c5"/><rect x="591.3" y="655.0" width="7.3" height="7.3" fill="#fff2c1"/><rect x="598.3" y="655.0" width="7.3" height="7.3" fill="#ffeebd"/><rect x="605.3" y="655.0" width="7.3" height="7.3" fill="#ffebba"/><rect x="612.3" y="655.0" width="7.3" height="7.3" fill="#ffe8b6"/><rect x="619.3" y="655.0" width="7.3" height="7.3" fill="#ffe4b2"/><rect x="626.3" y="655.0" width="7.3" height="7.3" fill="#ffe1af"/><rect x="633.3" y="655.0" width="7.3" height="7.3" fill="#ffddab"/><rect x="640.3" y="655.0" width="7.3" height="7.3" fill="#ffdaa8"/><rect x="367.3" y="662.0" width="7.3" height="7.3" fill="#87fccd"/><rect x="374.3" y="662.0" width="7.3" height="7.3" fill="#8afccd"/><rect x="381.3" y="662.0" width="7.3" height="7.3" fill="#8dfcce"/><rect x="388.3" y="662.0" width="7.3" height="7.3" fill="#91fcce"/><rect x="395.3" y="662.0" width="7.3" height="7.3" fill="#94fcce"/><rect x="402.3" y="662.0" width="7.3" height="7.3" fill="#97fccf"/><rect x="409.3" y="662.0" width="7.3" height="7.3" fill="#9bfccf"/><rect x="416.3" y="662.0" width="7.3" height="7.3" fill="#9efccf"/><rect x="423.3" y="662.0" width="7.3" height="7.3" fill="#a1fccf"/><rect x="430.3" y="662.0" width="7.3" height="7.3" fill="#a5fcd0"/><rect x="437.3" y="662.0" width="7.3" height="7.3" fill="#a8fcd0"/><rect x="444.3" y="662.0" width="7.3" height="7.3" fill="#aefcce"/><rect x="451.3" y="662.0" width="7.3" height="7.3" fill="#b3fccc"/><rect x="458.3" y="662.0" width="7.3" height="7.3" fill="#b9fdc9"/><rect x="465.3" y="662.0" width="7.3" height="7.3" fill="#befdc7"/><rect x="472.3" y="662.0" width="7.3" height="7.3" fill="#c4fdc5"/><rect x="479.3" y="662.0" width="7.3" height="7.3" fill="#c9fdc4"/><rect x="486.3" y="662.0" width="7.3" height="7.3" fill="#cffdc4"/><rect x="493.3" y="662.0" width="7.3" height="7.3" fill="#d4fec5"/><rect x="500.3" y="662.0" width="7.3" height="7.3" fill="#dafec6"/><rect x="507.3" y="662.0" width="7.3" height="7.3" fill="#dffec6"/><rect x="514.3" y="662.0" width="7.3" height="7.3" fill="#e5ffc7"/><rect x="521.3" y="662.0" width="7.3" height="7.3" fill="#e9ffc8"/><rect x="528.3" y="662.0" width="7.3" height="7.3" fill="#edfec9"/><rect x="535.3" y="662.0" width="7.3" height="7.3" fill="#f0feca"/><rect x="542.3" y="662.0" width="7.3" height="7.3" fill="#f3fecb"/><rect x="549.3" y="662.0" width="7.3" height="7.3" fill="#f6fdcd"/><rect x="556.3" y="662.0" width="7.3" height="7.3" fill="#f9fdce"/><rect x="563.3" y="662.0" width="7.3" height="7.3" fill="#fdfccf"/><rect x="570.3" y="662.0" width="7.3" height="7.3" fill="#fffbcf"/><rect x="577.3" y="662.0" width="7.3" height="7.3" fill="#fff8cb"/><rect x="584.3" y="662.0" width="7.3" height="7.3" fill="#fff4c7"/><rect x="591.3" y="662.0" width="7.3" height="7.3" fill="#fff0c3"/><rect x="598.3" y="662.0" width="7.3" height="7.3" fill="#ffedbf"/><rect x="605.3" y="662.0" width="7.3" height="7.3" fill="#ffe9bb"/><rect x="612.3" y="662.0" width="7.3" height="7.3" fill="#ffe6b8"/><rect x="619.3" y="662.0" width="7.3" height="7.3" fill="#ffe2b4"/><rect x="626.3" y="662.0" width="7.3" height="7.3" fill="#ffdeb0"/><rect x="633.3" y="662.0" width="7.3" height="7.3" fill="#ffdbac"/><rect x="640.3" y="662.0" width="7.3" height="7.3" fill="#ffd7a8"/><rect x="367.3" y="669.0" width="7.3" height="7.3" fill="#87fcd1"/><rect x="374.3" y="669.0" width="7.3" height="7.3" fill="#8bfcd1"/><rect x="381.3" y="669.0" width="7.3" height="7.3" fill="#8efcd1"/><rect x="388.3" y="669.0" width="7.3" height="7.3" fill="#91fcd1"/><rect x="395.3" y="669.0" width="7.3" height="7.3" fill="#95fcd1"/><rect x="402.3" y="669.0" width="7.3" height="7.3" fill="#98fcd1"/><rect x="409.3" y="669.0" width="7.3" height="7.3" fill="#9cfcd2"/><rect x="416.3" y="669.0" width="7.3" height="7.3" fill="#9ffcd2"/><rect x="423.3" y="669.0" width="7.3" height="7.3" fill="#a3fcd2"/><rect x="430.3" y="669.0" width="7.3" height="7.3" fill="#a6fcd2"/><rect x="437.3" y="669.0" width="7.3" height="7.3" fill="#aafcd2"/><rect x="444.3" y="669.0" width="7.3" height="7.3" fill="#b0fcd1"/><rect x="451.3" y="669.0" width="7.3" height="7.3" fill="#b5fdcf"/><rect x="458.3" y="669.0" width="7.3" height="7.3" fill="#bbfdce"/><rect x="465.3" y="669.0" width="7.3" height="7.3" fill="#c1fdcc"/><rect x="472.3" y="669.0" width="7.3" height="7.3" fill="#c7fdca"/><rect x="479.3" y="669.0" width="7.3" height="7.3" fill="#ccfdc9"/><rect x="486.3" y="669.0" width="7.3" height="7.3" fill="#d2feca"/><rect x="493.3" y="669.0" width="7.3" height="7.3" fill="#d7fecb"/><rect x="500.3" y="669.0" width="7.3" height="7.3" fill="#ddfecc"/><rect x="507.3" y="669.0" width="7.3" height="7.3" fill="#e2ffcd"/><rect x="514.3" y="669.0" width="7.3" height="7.3" fill="#e7ffce"/><rect x="521.3" y="669.0" width="7.3" height="7.3" fill="#ecffce"/><rect x="528.3" y="669.0" width="7.3" height="7.3" fill="#effecf"/><rect x="535.3" y="669.0" width="7.3" height="7.3" fill="#f1fed0"/><rect x="542.3" y="669.0" width="7.3" height="7.3" fill="#f4fdd0"/><rect x="549.3" y="669.0" width="7.3" height="7.3" fill="#f7fdd1"/><rect x="556.3" y="669.0" width="7.3" height="7.3" fill="#fafcd2"/><rect x="563.3" y="669.0" width="7.3" height="7.3" fill="#fdfcd2"/><rect x="570.3" y="669.0" width="7.3" height="7.3" fill="#fffad2"/><rect x="577.3" y="669.0" width="7.3" height="7.3" fill="#fff6ce"/><rect x="584.3" y="669.0" width="7.3" height="7.3" fill="#fff3ca"/><rect x="591.3" y="669.0" width="7.3" height="7.3" fill="#ffefc5"/><rect x="598.3" y="669.0" width="7.3" height="7.3" fill="#ffebc1"/><rect x="605.3" y="669.0" width="7.3" height="7.3" fill="#ffe7bd"/><rect x="612.3" y="669.0" width="7.3" height="7.3" fill="#ffe4b9"/><rect x="619.3" y="669.0" width="7.3" height="7.3" fill="#ffe0b5"/><rect x="626.3" y="669.0" width="7.3" height="7.3" fill="#ffdcb1"/><rect x="633.3" y="669.0" width="7.3" height="7.3" fill="#ffd8ad"/><rect x="640.3" y="669.0" width="7.3" height="7.3" fill="#ffd4a9"/><rect x="367.3" y="676.0" width="7.3" height="7.3" fill="#87fbd4"/><rect x="374.3" y="676.0" width="7.3" height="7.3" fill="#8bfbd4"/><rect x="381.3" y="676.0" width="7.3" height="7.3" fill="#8ffbd4"/><rect x="388.3" y="676.0" width="7.3" height="7.3" fill="#92fbd4"/><rect x="395.3" y="676.0" width="7.3" height="7.3" fill="#96fcd4"/><rect x="402.3" y="676.0" width="7.3" height="7.3" fill="#9afcd4"/><rect x="409.3" y="676.0" width="7.3" height="7.3" fill="#9dfcd4"/><rect x="416.3" y="676.0" width="7.3" height="7.3" fill="#a1fcd5"/><rect x="423.3" y="676.0" width="7.3" height="7.3" fill="#a4fcd5"/><rect x="430.3" y="676.0" width="7.3" height="7.3" fill="#a8fcd5"/><rect x="437.3" y="676.0" width="7.3" height="7.3" fill="#acfcd5"/><rect x="444.3" y="676.0" width="7.3" height="7.3" fill="#b2fdd4"/><rect x="451.3" y="676.0" width="7.3" height="7.3" fill="#b8fdd3"/><rect x="458.3" y="676.0" width="7.3" height="7.3" fill="#befdd2"/><rect x="465.3" y="676.0" width="7.3" height="7.3" fill="#c4fdd1"/><rect x="472.3" y="676.0" width="7.3" height="7.3" fill="#cafdd0"/><rect x="479.3" y="676.0" width="7.3" height="7.3" fill="#cffecf"/><rect x="486.3" y="676.0" width="7.3" height="7.3" fill="#d5fed0"/><rect x="493.3" y="676.0" width="7.3" height="7.3" fill="#dafed1"/><rect x="500.3" y="676.0" width="7.3" height="7.3" fill="#dffed2"/><rect x="507.3" y="676.0" width="7.3" height="7.3" fill="#e5ffd3"/><rect x="514.3" y="676.0" width="7.3" height="7.3" fill="#eaffd4"/><rect x="521.3" y="676.0" width="7.3" height="7.3" fill="#eeffd5"/><rect x="528.3" y="676.0" width="7.3" height="7.3" fill="#f1fed5"/><rect x="535.3" y="676.0" width="7.3" height="7.3" fill="#f3fdd5"/><rect x="542.3" y="676.0" width="7.3" height="7.3" fill="#f6fdd5"/><rect x="549.3" y="676.0" width="7.3" height="7.3" fill="#f8fcd6"/><rect x="556.3" y="676.0" width="7.3" height="7.3" fill="#fbfbd6"/><rect x="563.3" y="676.0" width="7.3" height="7.3" fill="#fdfbd6"/><rect x="570.3" y="676.0" width="7.3" height="7.3" fill="#fff9d5"/><rect x="577.3" y="676.0" width="7.3" height="7.3" fill="#fff5d1"/><rect x="584.3" y="676.0" width="7.3" height="7.3" fill="#fff1cc"/><rect x="591.3" y="676.0" width="7.3" height="7.3" fill="#ffedc8"/><rect x="598.3" y="676.0" width="7.3" height="7.3" fill="#ffe9c3"/><rect x="605.3" y="676.0" width="7.3" height="7.3" fill="#ffe5bf"/><rect x="612.3" y="676.0" width="7.3" height="7.3" fill="#ffe2bb"/><rect x="619.3" y="676.0" width="7.3" height="7.3" fill="#ffdeb6"/><rect x="626.3" y="676.0" width="7.3" height="7.3" fill="#ffdab2"/><rect x="633.3" y="676.0" width="7.3" height="7.3" fill="#ffd6ad"/><rect x="640.3" y="676.0" width="7.3" height="7.3" fill="#ffd2a9"/><rect x="367.3" y="683.0" width="7.3" height="7.3" fill="#88fbd7"/><rect x="374.3" y="683.0" width="7.3" height="7.3" fill="#8bfbd7"/><rect x="381.3" y="683.0" width="7.3" height="7.3" fill="#8ffbd7"/><rect x="388.3" y="683.0" width="7.3" height="7.3" fill="#93fbd7"/><rect x="395.3" y="683.0" width="7.3" height="7.3" fill="#97fbd7"/><rect x="402.3" y="683.0" width="7.3" height="7.3" fill="#9bfcd7"/><rect x="409.3" y="683.0" width="7.3" height="7.3" fill="#9efcd7"/><rect x="416.3" y="683.0" width="7.3" height="7.3" fill="#a2fcd7"/><rect x="423.3" y="683.0" width="7.3" height="7.3" fill="#a6fcd7"/><rect x="430.3" y="683.0" width="7.3" height="7.3" fill="#aafcd7"/><rect x="437.3" y="683.0" width="7.3" height="7.3" fill="#aefcd7"/><rect x="444.3" y="683.0" width="7.3" height="7.3" fill="#b4fdd7"/><rect x="451.3" y="683.0" width="7.3" height="7.3" fill="#bafdd6"/><rect x="458.3" y="683.0" width="7.3" height="7.3" fill="#c0fdd6"/><rect x="465.3" y="683.0" width="7.3" height="7.3" fill="#c6fdd5"/><rect x="472.3" y="683.0" width="7.3" height="7.3" fill="#cdfed5"/><rect x="479.3" y="683.0" width="7.3" height="7.3" fill="#d3fed5"/><rect x="486.3" y="683.0" width="7.3" height="7.3" fill="#d8fed6"/><rect x="493.3" y="683.0" width="7.3" height="7.3" fill="#ddfed7"/><rect x="500.3" y="683.0" width="7.3" height="7.3" fill="#e2ffd8"/><rect x="507.3" y="683.0" width="7.3" height="7.3" fill="#e7ffda"/><rect x="514.3" y="683.0" width="7.3" height="7.3" fill="#edffdb"/><rect x="521.3" y="683.0" width="7.3" height="7.3" fill="#f0ffdb"/><rect x="528.3" y="683.0" width="7.3" height="7.3" fill="#f3fedb"/><rect x="535.3" y="683.0" width="7.3" height="7.3" fill="#f5fddb"/><rect x="542.3" y="683.0" width="7.3" height="7.3" fill="#f7fcda"/><rect x="549.3" y="683.0" width="7.3" height="7.3" fill="#f9fbda"/><rect x="556.3" y="683.0" width="7.3" height="7.3" fill="#fbfbda"/><rect x="563.3" y="683.0" width="7.3" height="7.3" fill="#fdfad9"/><rect x="570.3" y="683.0" width="7.3" height="7.3" fill="#fff8d8"/><rect x="577.3" y="683.0" width="7.3" height="7.3" fill="#fff4d3"/><rect x="584.3" y="683.0" width="7.3" height="7.3" fill="#fff0cf"/><rect x="591.3" y="683.0" width="7.3" height="7.3" fill="#ffecca"/><rect x="598.3" y="683.0" width="7.3" height="7.3" fill="#ffe8c5"/><rect x="605.3" y="683.0" width="7.3" height="7.3" fill="#ffe4c1"/><rect x="612.3" y="683.0" width="7.3" height="7.3" fill="#ffdfbc"/><rect x="619.3" y="683.0" width="7.3" height="7.3" fill="#ffdbb7"/><rect x="626.3" y="683.0" width="7.3" height="7.3" fill="#ffd7b3"/><rect x="633.3" y="683.0" width="7.3" height="7.3" fill="#ffd3ae"/><rect x="640.3" y="683.0" width="7.3" height="7.3" fill="#ffcfaa"/><rect x="367.3" y="690.0" width="7.3" height="7.3" fill="#88fada"/><rect x="374.3" y="690.0" width="7.3" height="7.3" fill="#8cfada"/><rect x="381.3" y="690.0" width="7.3" height="7.3" fill="#90fbda"/><rect x="388.3" y="690.0" width="7.3" height="7.3" fill="#94fbda"/><rect x="395.3" y="690.0" width="7.3" height="7.3" fill="#98fbda"/><rect x="402.3" y="690.0" width="7.3" height="7.3" fill="#9cfbda"/><rect x="409.3" y="690.0" width="7.3" height="7.3" fill="#a0fcda"/><rect x="416.3" y="690.0" width="7.3" height="7.3" fill="#a4fcda"/><rect x="423.3" y="690.0" width="7.3" height="7.3" fill="#a8fcda"/><rect x="430.3" y="690.0" width="7.3" height="7.3" fill="#acfcda"/><rect x="437.3" y="690.0" width="7.3" height="7.3" fill="#b0fdda"/><rect x="444.3" y="690.0" width="7.3" height="7.3" fill="#b6fdda"/><rect x="451.3" y="690.0" width="7.3" height="7.3" fill="#bcfdda"/><rect x="458.3" y="690.0" width="7.3" height="7.3" fill="#c3fdda"/><rect x="465.3" y="690.0" width="7.3" height="7.3" fill="#c9feda"/><rect x="472.3" y="690.0" width="7.3" height="7.3" fill="#d0feda"/><rect x="479.3" y="690.0" width="7.3" height="7.3" fill="#d6fedb"/><rect x="486.3" y="690.0" width="7.3" height="7.3" fill="#dbfedc"/><rect x="493.3" y="690.0" width="7.3" height="7.3" fill="#e0ffdd"/><rect x="500.3" y="690.0" width="7.3" height="7.3" fill="#e5ffdf"/><rect x="507.3" y="690.0" width="7.3" height="7.3" fill="#eaffe0"/><rect x="514.3" y="690.0" width="7.3" height="7.3" fill="#efffe1"/><rect x="521.3" y="690.0" width="7.3" height="7.3" fill="#f3ffe2"/><rect x="528.3" y="690.0" width="7.3" height="7.3" fill="#f5fee1"/><rect x="535.3" y="690.0" width="7.3" height="7.3" fill="#f6fde0"/><rect x="542.3" y="690.0" width="7.3" height="7.3" fill="#f8fcdf"/><rect x="549.3" y="690.0" width="7.3" height="7.3" fill="#fafbde"/><rect x="556.3" y="690.0" width="7.3" height="7.3" fill="#fcfade"/><rect x="563.3" y="690.0" width="7.3" height="7.3" fill="#fef9dd"/><rect x="570.3" y="690.0" width="7.3" height="7.3" fill="#fff7db"/><rect x="577.3" y="690.0" width="7.3" height="7.3" fill="#fff3d6"/><rect x="584.3" y="690.0" width="7.3" height="7.3" fill="#ffefd1"/><rect x="591.3" y="690.0" width="7.3" height="7.3" fill="#ffeacc"/><rect x="598.3" y="690.0" width="7.3" height="7.3" fill="#ffe6c7"/><rect x="605.3" y="690.0" width="7.3" height="7.3" fill="#ffe2c3"/><rect x="612.3" y="690.0" width="7.3" height="7.3" fill="#ffddbe"/><rect x="619.3" y="690.0" width="7.3" height="7.3" fill="#ffd9b9"/><rect x="626.3" y="690.0" width="7.3" height="7.3" fill="#ffd5b4"/><rect x="633.3" y="690.0" width="7.3" height="7.3" fill="#ffd1af"/><rect x="640.3" y="690.0" width="7.3" height="7.3" fill="#ffccaa"/><rect x="367.3" y="697.0" width="7.3" height="7.3" fill="#88fade"/><rect x="374.3" y="697.0" width="7.3" height="7.3" fill="#8cfade"/><rect x="381.3" y="697.0" width="7.3" height="7.3" fill="#90fade"/><rect x="388.3" y="697.0" width="7.3" height="7.3" fill="#95fbdd"/><rect x="395.3" y="697.0" width="7.3" height="7.3" fill="#99fbdd"/><rect x="402.3" y="697.0" width="7.3" height="7.3" fill="#9dfbdd"/><rect x="409.3" y="697.0" width="7.3" height="7.3" fill="#a1fcdd"/><rect x="416.3" y="697.0" width="7.3" height="7.3" fill="#a5fcdd"/><rect x="423.3" y="697.0" width="7.3" height="7.3" fill="#a9fcdd"/><rect x="430.3" y="697.0" width="7.3" height="7.3" fill="#adfcdd"/><rect x="437.3" y="697.0" width="7.3" height="7.3" fill="#b1fddc"/><rect x="444.3" y="697.0" width="7.3" height="7.3" fill="#b8fddd"/><rect x="451.3" y="697.0" width="7.3" height="7.3" fill="#bffdde"/><rect x="458.3" y="697.0" width="7.3" height="7.3" fill="#c5fede"/><rect x="465.3" y="697.0" width="7.3" height="7.3" fill="#ccfedf"/><rect x="472.3" y="697.0" width="7.3" height="7.3" fill="#d3fedf"/><rect x="479.3" y="697.0" width="7.3" height="7.3" fill="#d9ffe0"/><rect x="486.3" y="697.0" width="7.3" height="7.3" fill="#deffe2"/><rect x="493.3" y="697.0" width="7.3" height="7.3" fill="#e3ffe3"/><rect x="500.3" y="697.0" width="7.3" height="7.3" fill="#e8ffe5"/><rect x="507.3" y="697.0" width="7.3" height="7.3" fill="#edffe6"/><rect x="514.3" y="697.0" width="7.3" height="7.3" fill="#f2ffe8"/><rect x="521.3" y="697.0" width="7.3" height="7.3" fill="#f5fee8"/><rect x="528.3" y="697.0" width="7.3" height="7.3" fill="#f7fde7"/><rect x="535.3" y="697.0" width="7.3" height="7.3" fill="#f8fce5"/><rect x="542.3" y="697.0" width="7.3" height="7.3" fill="#fafbe4"/><rect x="549.3" y="697.0" width="7.3" height="7.3" fill="#fbfae3"/><rect x="556.3" y="697.0" width="7.3" height="7.3" fill="#fcf9e2"/><rect x="563.3" y="697.0" width="7.3" height="7.3" fill="#fef8e0"/><rect x="570.3" y="697.0" width="7.3" height="7.3" fill="#fff6de"/><rect x="577.3" y="697.0" width="7.3" height="7.3" fill="#fff2d9"/><rect x="584.3" y="697.0" width="7.3" height="7.3" fill="#ffedd4"/><rect x="591.3" y="697.0" width="7.3" height="7.3" fill="#ffe9cf"/><rect x="598.3" y="697.0" width="7.3" height="7.3" fill="#ffe4c9"/><rect x="605.3" y="697.0" width="7.3" height="7.3" fill="#ffe0c4"/><rect x="612.3" y="697.0" width="7.3" height="7.3" fill="#ffdbbf"/><rect x="619.3" y="697.0" width="7.3" height="7.3" fill="#ffd7ba"/><rect x="626.3" y="697.0" width="7.3" height="7.3" fill="#ffd2b5"/><rect x="633.3" y="697.0" width="7.3" height="7.3" fill="#ffceb0"/><rect x="640.3" y="697.0" width="7.3" height="7.3" fill="#ffcaaa"/><rect x="367.3" y="704.0" width="7.3" height="7.3" fill="#88f9e1"/><rect x="374.3" y="704.0" width="7.3" height="7.3" fill="#8dfae1"/><rect x="381.3" y="704.0" width="7.3" height="7.3" fill="#91fae1"/><rect x="388.3" y="704.0" width="7.3" height="7.3" fill="#95fae0"/><rect x="395.3" y="704.0" width="7.3" height="7.3" fill="#9afbe0"/><rect x="402.3" y="704.0" width="7.3" height="7.3" fill="#9efbe0"/><rect x="409.3" y="704.0" width="7.3" height="7.3" fill="#a2fce0"/><rect x="416.3" y="704.0" width="7.3" height="7.3" fill="#a6fce0"/><rect x="423.3" y="704.0" width="7.3" height="7.3" fill="#abfcdf"/><rect x="430.3" y="704.0" width="7.3" height="7.3" fill="#affddf"/><rect x="437.3" y="704.0" width="7.3" height="7.3" fill="#b3fddf"/><rect x="444.3" y="704.0" width="7.3" height="7.3" fill="#bafde0"/><rect x="451.3" y="704.0" width="7.3" height="7.3" fill="#c1fee1"/><rect x="458.3" y="704.0" width="7.3" height="7.3" fill="#c8fee2"/><rect x="465.3" y="704.0" width="7.3" height="7.3" fill="#cffee4"/><rect x="472.3" y="704.0" width="7.3" height="7.3" fill="#d6ffe5"/><rect x="479.3" y="704.0" width="7.3" height="7.3" fill="#dcffe6"/><rect x="486.3" y="704.0" width="7.3" height="7.3" fill="#e1ffe8"/><rect x="493.3" y="704.0" width="7.3" height="7.3" fill="#e6ffe9"/><rect x="500.3" y="704.0" width="7.3" height="7.3" fill="#ebffeb"/><rect x="507.3" y="704.0" width="7.3" height="7.3" fill="#efffed"/><rect x="514.3" y="704.0" width="7.3" height="7.3" fill="#f4ffee"/><rect x="521.3" y="704.0" width="7.3" height="7.3" fill="#f7feee"/><rect x="528.3" y="704.0" width="7.3" height="7.3" fill="#f9fded"/><rect x="535.3" y="704.0" width="7.3" height="7.3" fill="#fafceb"/><rect x="542.3" y="704.0" width="7.3" height="7.3" fill="#fbfbe9"/><rect x="549.3" y="704.0" width="7.3" height="7.3" fill="#fcfae7"/><rect x="556.3" y="704.0" width="7.3" height="7.3" fill="#fdf8e6"/><rect x="563.3" y="704.0" width="7.3" height="7.3" fill="#fef7e4"/><rect x="570.3" y="704.0" width="7.3" height="7.3" fill="#fff5e1"/><rect x="577.3" y="704.0" width="7.3" height="7.3" fill="#fff1dc"/><rect x="584.3" y="704.0" width="7.3" height="7.3" fill="#ffecd6"/><rect x="591.3" y="704.0" width="7.3" height="7.3" fill="#ffe7d1"/><rect x="598.3" y="704.0" width="7.3" height="7.3" fill="#ffe3cc"/><rect x="605.3" y="704.0" width="7.3" height="7.3" fill="#ffdec6"/><rect x="612.3" y="704.0" width="7.3" height="7.3" fill="#ffd9c1"/><rect x="619.3" y="704.0" width="7.3" height="7.3" fill="#ffd5bb"/><rect x="626.3" y="704.0" width="7.3" height="7.3" fill="#ffd0b6"/><rect x="633.3" y="704.0" width="7.3" height="7.3" fill="#ffcbb0"/><rect x="640.3" y="704.0" width="7.3" height="7.3" fill="#ffc7ab"/><rect x="367.3" y="711.0" width="7.3" height="7.3" fill="#8af9e5"/><rect x="374.3" y="711.0" width="7.3" height="7.3" fill="#8ef9e5"/><rect x="381.3" y="711.0" width="7.3" height="7.3" fill="#93fae5"/><rect x="388.3" y="711.0" width="7.3" height="7.3" fill="#97fae4"/><rect x="395.3" y="711.0" width="7.3" height="7.3" fill="#9cfae4"/><rect x="402.3" y="711.0" width="7.3" height="7.3" fill="#a0fbe4"/><rect x="409.3" y="711.0" width="7.3" height="7.3" fill="#a4fbe4"/><rect x="416.3" y="711.0" width="7.3" height="7.3" fill="#a9fce3"/><rect x="423.3" y="711.0" width="7.3" height="7.3" fill="#adfce3"/><rect x="430.3" y="711.0" width="7.3" height="7.3" fill="#b1fde3"/><rect x="437.3" y="711.0" width="7.3" height="7.3" fill="#b6fde3"/><rect x="444.3" y="711.0" width="7.3" height="7.3" fill="#bdfde4"/><rect x="451.3" y="711.0" width="7.3" height="7.3" fill="#c4fee5"/><rect x="458.3" y="711.0" width="7.3" height="7.3" fill="#cbfee7"/><rect x="465.3" y="711.0" width="7.3" height="7.3" fill="#d2fee8"/><rect x="472.3" y="711.0" width="7.3" height="7.3" fill="#d8ffe9"/><rect x="479.3" y="711.0" width="7.3" height="7.3" fill="#dfffea"/><rect x="486.3" y="711.0" width="7.3" height="7.3" fill="#e3ffec"/><rect x="493.3" y="711.0" width="7.3" height="7.3" fill="#e8ffed"/><rect x="500.3" y="711.0" width="7.3" height="7.3" fill="#edffef"/><rect x="507.3" y="711.0" width="7.3" height="7.3" fill="#f1fff0"/><rect x="514.3" y="711.0" width="7.3" height="7.3" fill="#f6fff2"/><rect x="521.3" y="711.0" width="7.3" height="7.3" fill="#f9fef1"/><rect x="528.3" y="711.0" width="7.3" height="7.3" fill="#fafcef"/><rect x="535.3" y="711.0" width="7.3" height="7.3" fill="#fbfbed"/><rect x="542.3" y="711.0" width="7.3" height="7.3" fill="#fcfaeb"/><rect x="549.3" y="711.0" width="7.3" height="7.3" fill="#fdf8e9"/><rect x="556.3" y="711.0" width="7.3" height="7.3" fill="#fdf7e7"/><rect x="563.3" y="711.0" width="7.3" height="7.3" fill="#fef5e5"/><rect x="570.3" y="711.0" width="7.3" height="7.3" fill="#fff3e2"/><rect x="577.3" y="711.0" width="7.3" height="7.3" fill="#ffeedc"/><rect x="584.3" y="711.0" width="7.3" height="7.3" fill="#ffead7"/><rect x="591.3" y="711.0" width="7.3" height="7.3" fill="#ffe5d2"/><rect x="598.3" y="711.0" width="7.3" height="7.3" fill="#ffe0cc"/><rect x="605.3" y="711.0" width="7.3" height="7.3" fill="#ffdcc7"/><rect x="612.3" y="711.0" width="7.3" height="7.3" fill="#ffd7c1"/><rect x="619.3" y="711.0" width="7.3" height="7.3" fill="#ffd2bc"/><rect x="626.3" y="711.0" width="7.3" height="7.3" fill="#ffcdb6"/><rect x="633.3" y="711.0" width="7.3" height="7.3" fill="#ffc9b1"/><rect x="640.3" y="711.0" width="7.3" height="7.3" fill="#ffc4ab"/><rect x="367.3" y="718.0" width="7.3" height="7.3" fill="#8df8e9"/><rect x="374.3" y="718.0" width="7.3" height="7.3" fill="#91f8e9"/><rect x="381.3" y="718.0" width="7.3" height="7.3" fill="#96f9e9"/><rect x="388.3" y="718.0" width="7.3" height="7.3" fill="#9af9e9"/><rect x="395.3" y="718.0" width="7.3" height="7.3" fill="#9efae9"/><rect x="402.3" y="718.0" width="7.3" height="7.3" fill="#a3fae8"/><rect x="409.3" y="718.0" width="7.3" height="7.3" fill="#a7fbe8"/><rect x="416.3" y="718.0" width="7.3" height="7.3" fill="#acfbe8"/><rect x="423.3" y="718.0" width="7.3" height="7.3" fill="#b0fce8"/><rect x="430.3" y="718.0" width="7.3" height="7.3" fill="#b4fce8"/><rect x="437.3" y="718.0" width="7.3" height="7.3" fill="#b9fde7"/><rect x="444.3" y="718.0" width="7.3" height="7.3" fill="#c0fde8"/><rect x="451.3" y="718.0" width="7.3" height="7.3" fill="#c7fde9"/><rect x="458.3" y="718.0" width="7.3" height="7.3" fill="#cdfeeb"/><rect x="465.3" y="718.0" width="7.3" height="7.3" fill="#d4feec"/><rect x="472.3" y="718.0" width="7.3" height="7.3" fill="#dbfeed"/><rect x="479.3" y="718.0" width="7.3" height="7.3" fill="#e1feee"/><rect x="486.3" y="718.0" width="7.3" height="7.3" fill="#e6feef"/><rect x="493.3" y="718.0" width="7.3" height="7.3" fill="#eafef0"/><rect x="500.3" y="718.0" width="7.3" height="7.3" fill="#effef1"/><rect x="507.3" y="718.0" width="7.3" height="7.3" fill="#f3fef1"/><rect x="514.3" y="718.0" width="7.3" height="7.3" fill="#f7fef2"/><rect x="521.3" y="718.0" width="7.3" height="7.3" fill="#fafdf2"/><rect x="528.3" y="718.0" width="7.3" height="7.3" fill="#fbfbf0"/><rect x="535.3" y="718.0" width="7.3" height="7.3" fill="#fbf9ed"/><rect x="542.3" y="718.0" width="7.3" height="7.3" fill="#fcf8eb"/><rect x="549.3" y="718.0" width="7.3" height="7.3" fill="#fdf6e9"/><rect x="556.3" y="718.0" width="7.3" height="7.3" fill="#fef4e6"/><rect x="563.3" y="718.0" width="7.3" height="7.3" fill="#fef3e4"/><rect x="570.3" y="718.0" width="7.3" height="7.3" fill="#fff0e1"/><rect x="577.3" y="718.0" width="7.3" height="7.3" fill="#ffebdb"/><rect x="584.3" y="718.0" width="7.3" height="7.3" fill="#ffe7d6"/><rect x="591.3" y="718.0" width="7.3" height="7.3" fill="#ffe2d1"/><rect x="598.3" y="718.0" width="7.3" height="7.3" fill="#ffddcc"/><rect x="605.3" y="718.0" width="7.3" height="7.3" fill="#ffd8c6"/><rect x="612.3" y="718.0" width="7.3" height="7.3" fill="#ffd4c1"/><rect x="619.3" y="718.0" width="7.3" height="7.3" fill="#ffcfbc"/><rect x="626.3" y="718.0" width="7.3" height="7.3" fill="#ffcab6"/><rect x="633.3" y="718.0" width="7.3" height="7.3" fill="#ffc6b1"/><rect x="640.3" y="718.0" width="7.3" height="7.3" fill="#ffc1ac"/><rect x="367.3" y="725.0" width="7.3" height="7.3" fill="#8ff7ee"/><rect x="374.3" y="725.0" width="7.3" height="7.3" fill="#94f8ed"/><rect x="381.3" y="725.0" width="7.3" height="7.3" fill="#98f8ed"/><rect x="388.3" y="725.0" width="7.3" height="7.3" fill="#9df9ed"/><rect x="395.3" y="725.0" width="7.3" height="7.3" fill="#a1f9ed"/><rect x="402.3" y="725.0" width="7.3" height="7.3" fill="#a6faed"/><rect x="409.3" y="725.0" width="7.3" height="7.3" fill="#aafaed"/><rect x="416.3" y="725.0" width="7.3" height="7.3" fill="#aefbec"/><rect x="423.3" y="725.0" width="7.3" height="7.3" fill="#b3fcec"/><rect x="430.3" y="725.0" width="7.3" height="7.3" fill="#b7fcec"/><rect x="437.3" y="725.0" width="7.3" height="7.3" fill="#bcfdec"/><rect x="444.3" y="725.0" width="7.3" height="7.3" fill="#c3fded"/><rect x="451.3" y="725.0" width="7.3" height="7.3" fill="#cafdee"/><rect x="458.3" y="725.0" width="7.3" height="7.3" fill="#d0fdef"/><rect x="465.3" y="725.0" width="7.3" height="7.3" fill="#d7fdef"/><rect x="472.3" y="725.0" width="7.3" height="7.3" fill="#defef0"/><rect x="479.3" y="725.0" width="7.3" height="7.3" fill="#e4fef1"/><rect x="486.3" y="725.0" width="7.3" height="7.3" fill="#e8fef1"/><rect x="493.3" y="725.0" width="7.3" height="7.3" fill="#ecfdf2"/><rect x="500.3" y="725.0" width="7.3" height="7.3" fill="#f0fdf2"/><rect x="507.3" y="725.0" width="7.3" height="7.3" fill="#f4fdf3"/><rect x="514.3" y="725.0" width="7.3" height="7.3" fill="#f9fdf3"/><rect x="521.3" y="725.0" width="7.3" height="7.3" fill="#fbfcf2"/><rect x="528.3" y="725.0" width="7.3" height="7.3" fill="#fcfaf0"/><rect x="535.3" y="725.0" width="7.3" height="7.3" fill="#fcf8ed"/><rect x="542.3" y="725.0" width="7.3" height="7.3" fill="#fdf6eb"/><rect x="549.3" y="725.0" width="7.3" height="7.3" fill="#fdf4e8"/><rect x="556.3" y="725.0" width="7.3" height="7.3" fill="#fef2e5"/><rect x="563.3" y="725.0" width="7.3" height="7.3" fill="#fff0e3"/><rect x="570.3" y="725.0" width="7.3" height="7.3" fill="#ffede0"/><rect x="577.3" y="725.0" width="7.3" height="7.3" fill="#ffe8da"/><rect x="584.3" y="725.0" width="7.3" height="7.3" fill="#ffe4d5"/><rect x="591.3" y="725.0" width="7.3" height="7.3" fill="#ffdfd0"/><rect x="598.3" y="725.0" width="7.3" height="7.3" fill="#ffdacb"/><rect x="605.3" y="725.0" width="7.3" height="7.3" fill="#ffd5c6"/><rect x="612.3" y="725.0" width="7.3" height="7.3" fill="#ffd1c1"/><rect x="619.3" y="725.0" width="7.3" height="7.3" fill="#ffccbc"/><rect x="626.3" y="725.0" width="7.3" height="7.3" fill="#ffc7b7"/><rect x="633.3" y="725.0" width="7.3" height="7.3" fill="#ffc3b2"/><rect x="640.3" y="725.0" width="7.3" height="7.3" fill="#ffbeac"/><rect x="367.3" y="732.0" width="7.3" height="7.3" fill="#92f7f2"/><rect x="374.3" y="732.0" width="7.3" height="7.3" fill="#96f7f2"/><rect x="381.3" y="732.0" width="7.3" height="7.3" fill="#9bf8f2"/><rect x="388.3" y="732.0" width="7.3" height="7.3" fill="#9ff8f1"/><rect x="395.3" y="732.0" width="7.3" height="7.3" fill="#a4f9f1"/><rect x="402.3" y="732.0" width="7.3" height="7.3" fill="#a8faf1"/><rect x="409.3" y="732.0" width="7.3" height="7.3" fill="#adfaf1"/><rect x="416.3" y="732.0" width="7.3" height="7.3" fill="#b1fbf1"/><rect x="423.3" y="732.0" width="7.3" height="7.3" fill="#b6fbf1"/><rect x="430.3" y="732.0" width="7.3" height="7.3" fill="#bafcf1"/><rect x="437.3" y="732.0" width="7.3" height="7.3" fill="#bffcf1"/><rect x="444.3" y="732.0" width="7.3" height="7.3" fill="#c6fdf1"/><rect x="451.3" y="732.0" width="7.3" height="7.3" fill="#ccfdf2"/><rect x="458.3" y="732.0" width="7.3" height="7.3" fill="#d3fdf3"/><rect x="465.3" y="732.0" width="7.3" height="7.3" fill="#dafdf3"/><rect x="472.3" y="732.0" width="7.3" height="7.3" fill="#e1fdf4"/><rect x="479.3" y="732.0" width="7.3" height="7.3" fill="#e7fdf4"/><rect x="486.3" y="732.0" width="7.3" height="7.3" fill="#eafdf4"/><rect x="493.3" y="732.0" width="7.3" height="7.3" fill="#eefdf4"/><rect x="500.3" y="732.0" width="7.3" height="7.3" fill="#f2fcf4"/><rect x="507.3" y="732.0" width="7.3" height="7.3" fill="#f6fcf4"/><rect x="514.3" y="732.0" width="7.3" height="7.3" fill="#fafcf4"/><rect x="521.3" y="732.0" width="7.3" height="7.3" fill="#fcfbf3"/><rect x="528.3" y="732.0" width="7.3" height="7.3" fill="#fcf8f0"/><rect x="535.3" y="732.0" width="7.3" height="7.3" fill="#fdf6ed"/><rect x="542.3" y="732.0" width="7.3" height="7.3" fill="#fdf4ea"/><rect x="549.3" y="732.0" width="7.3" height="7.3" fill="#fef2e7"/><rect x="556.3" y="732.0" width="7.3" height="7.3" fill="#feefe5"/><rect x="563.3" y="732.0" width="7.3" height="7.3" fill="#ffede2"/><rect x="570.3" y="732.0" width="7.3" height="7.3" fill="#ffeade"/><rect x="577.3" y="732.0" width="7.3" height="7.3" fill="#ffe5d9"/><rect x="584.3" y="732.0" width="7.3" height="7.3" fill="#ffe1d5"/><rect x="591.3" y="732.0" width="7.3" height="7.3" fill="#ffdcd0"/><rect x="598.3" y="732.0" width="7.3" height="7.3" fill="#ffd7cb"/><rect x="605.3" y="732.0" width="7.3" height="7.3" fill="#ffd2c6"/><rect x="612.3" y="732.0" width="7.3" height="7.3" fill="#ffcec1"/><rect x="619.3" y="732.0" width="7.3" height="7.3" fill="#ffc9bc"/><rect x="626.3" y="732.0" width="7.3" height="7.3" fill="#ffc4b7"/><rect x="633.3" y="732.0" width="7.3" height="7.3" fill="#ffc0b2"/><rect x="640.3" y="732.0" width="7.3" height="7.3" fill="#ffbbad"/><rect x="367.3" y="739.0" width="7.3" height="7.3" fill="#95f6f6"/><rect x="374.3" y="739.0" width="7.3" height="7.3" fill="#99f6f6"/><rect x="381.3" y="739.0" width="7.3" height="7.3" fill="#9ef7f6"/><rect x="388.3" y="739.0" width="7.3" height="7.3" fill="#a2f8f6"/><rect x="395.3" y="739.0" width="7.3" height="7.3" fill="#a7f8f6"/><rect x="402.3" y="739.0" width="7.3" height="7.3" fill="#abf9f6"/><rect x="409.3" y="739.0" width="7.3" height="7.3" fill="#b0faf6"/><rect x="416.3" y="739.0" width="7.3" height="7.3" fill="#b4faf6"/><rect x="423.3" y="739.0" width="7.3" height="7.3" fill="#b9fbf5"/><rect x="430.3" y="739.0" width="7.3" height="7.3" fill="#bdfcf5"/><rect x="437.3" y="739.0" width="7.3" height="7.3" fill="#c2fcf5"/><rect x="444.3" y="739.0" width="7.3" height="7.3" fill="#c9fcf6"/><rect x="451.3" y="739.0" width="7.3" height="7.3" fill="#cffdf6"/><rect x="458.3" y="739.0" width="7.3" height="7.3" fill="#d6fdf7"/><rect x="465.3" y="739.0" width="7.3" height="7.3" fill="#ddfdf7"/><rect x="472.3" y="739.0" width="7.3" height="7.3" fill="#e3fdf8"/><rect x="479.3" y="739.0" width="7.3" height="7.3" fill="#e9fdf8"/><rect x="486.3" y="739.0" width="7.3" height="7.3" fill="#edfcf7"/><rect x="493.3" y="739.0" width="7.3" height="7.3" fill="#f0fcf7"/><rect x="500.3" y="739.0" width="7.3" height="7.3" fill="#f4fcf6"/><rect x="507.3" y="739.0" width="7.3" height="7.3" fill="#f7fbf6"/><rect x="514.3" y="739.0" width="7.3" height="7.3" fill="#fbfbf5"/><rect x="521.3" y="739.0" width="7.3" height="7.3" fill="#fdfaf3"/><rect x="528.3" y="739.0" width="7.3" height="7.3" fill="#fdf7f0"/><rect x="535.3" y="739.0" width="7.3" height="7.3" fill="#fef4ed"/><rect x="542.3" y="739.0" width="7.3" height="7.3" fill="#fef2ea"/><rect x="549.3" y="739.0" width="7.3" height="7.3" fill="#feefe7"/><rect x="556.3" y="739.0" width="7.3" height="7.3" fill="#feede4"/><rect x="563.3" y="739.0" width="7.3" height="7.3" fill="#ffeae1"/><rect x="570.3" y="739.0" width="7.3" height="7.3" fill="#ffe7dd"/><rect x="577.3" y="739.0" width="7.3" height="7.3" fill="#ffe2d8"/><rect x="584.3" y="739.0" width="7.3" height="7.3" fill="#ffded4"/><rect x="591.3" y="739.0" width="7.3" height="7.3" fill="#ffd9cf"/><rect x="598.3" y="739.0" width="7.3" height="7.3" fill="#ffd4ca"/><rect x="605.3" y="739.0" width="7.3" height="7.3" fill="#ffcfc5"/><rect x="612.3" y="739.0" width="7.3" height="7.3" fill="#ffcbc1"/><rect x="619.3" y="739.0" width="7.3" height="7.3" fill="#ffc6bc"/><rect x="626.3" y="739.0" width="7.3" height="7.3" fill="#ffc1b7"/><rect x="633.3" y="739.0" width="7.3" height="7.3" fill="#ffbdb2"/><rect x="640.3" y="739.0" width="7.3" height="7.3" fill="#ffb8ad"/><rect x="367.3" y="746.0" width="7.3" height="7.3" fill="#97f5fa"/><rect x="374.3" y="746.0" width="7.3" height="7.3" fill="#9cf6fa"/><rect x="381.3" y="746.0" width="7.3" height="7.3" fill="#a0f7fa"/><rect x="388.3" y="746.0" width="7.3" height="7.3" fill="#a5f7fa"/><rect x="395.3" y="746.0" width="7.3" height="7.3" fill="#a9f8fa"/><rect x="402.3" y="746.0" width="7.3" height="7.3" fill="#aef9fa"/><rect x="409.3" y="746.0" width="7.3" height="7.3" fill="#b3f9fa"/><rect x="416.3" y="746.0" width="7.3" height="7.3" fill="#b7fafa"/><rect x="423.3" y="746.0" width="7.3" height="7.3" fill="#bcfbfa"/><rect x="430.3" y="746.0" width="7.3" height="7.3" fill="#c0fbfa"/><rect x="437.3" y="746.0" width="7.3" height="7.3" fill="#c5fcfa"/><rect x="444.3" y="746.0" width="7.3" height="7.3" fill="#ccfcfa"/><rect x="451.3" y="746.0" width="7.3" height="7.3" fill="#d2fcfa"/><rect x="458.3" y="746.0" width="7.3" height="7.3" fill="#d9fcfb"/><rect x="465.3" y="746.0" width="7.3" height="7.3" fill="#e0fcfb"/><rect x="472.3" y="746.0" width="7.3" height="7.3" fill="#e6fcfb"/><rect x="479.3" y="746.0" width="7.3" height="7.3" fill="#ecfcfb"/><rect x="486.3" y="746.0" width="7.3" height="7.3" fill="#effcfa"/><rect x="493.3" y="746.0" width="7.3" height="7.3" fill="#f2fcf9"/><rect x="500.3" y="746.0" width="7.3" height="7.3" fill="#f6fbf8"/><rect x="507.3" y="746.0" width="7.3" height="7.3" fill="#f9fbf7"/><rect x="514.3" y="746.0" width="7.3" height="7.3" fill="#fcfaf6"/><rect x="521.3" y="746.0" width="7.3" height="7.3" fill="#fef9f4"/><rect x="528.3" y="746.0" width="7.3" height="7.3" fill="#fef6f0"/><rect x="535.3" y="746.0" width="7.3" height="7.3" fill="#fef3ed"/><rect x="542.3" y="746.0" width="7.3" height="7.3" fill="#fef0ea"/><rect x="549.3" y="746.0" width="7.3" height="7.3" fill="#ffede6"/><rect x="556.3" y="746.0" width="7.3" height="7.3" fill="#ffeae3"/><rect x="563.3" y="746.0" width="7.3" height="7.3" fill="#ffe7e0"/><rect x="570.3" y="746.0" width="7.3" height="7.3" fill="#ffe4dc"/><rect x="577.3" y="746.0" width="7.3" height="7.3" fill="#ffdfd7"/><rect x="584.3" y="746.0" width="7.3" height="7.3" fill="#ffdbd3"/><rect x="591.3" y="746.0" width="7.3" height="7.3" fill="#ffd6ce"/><rect x="598.3" y="746.0" width="7.3" height="7.3" fill="#ffd1ca"/><rect x="605.3" y="746.0" width="7.3" height="7.3" fill="#ffccc5"/><rect x="612.3" y="746.0" width="7.3" height="7.3" fill="#ffc8c0"/><rect x="619.3" y="746.0" width="7.3" height="7.3" fill="#ffc3bc"/><rect x="626.3" y="746.0" width="7.3" height="7.3" fill="#ffbeb7"/><rect x="633.3" y="746.0" width="7.3" height="7.3" fill="#ffbab3"/><rect x="640.3" y="746.0" width="7.3" height="7.3" fill="#ffb5ae"/><rect x="367.3" y="753.0" width="7.3" height="7.3" fill="#9af4ff"/><rect x="374.3" y="753.0" width="7.3" height="7.3" fill="#9ef5ff"/><rect x="381.3" y="753.0" width="7.3" height="7.3" fill="#a3f6ff"/><rect x="388.3" y="753.0" width="7.3" height="7.3" fill="#a8f7ff"/><rect x="395.3" y="753.0" width="7.3" height="7.3" fill="#acf7ff"/><rect x="402.3" y="753.0" width="7.3" height="7.3" fill="#b1f8ff"/><rect x="409.3" y="753.0" width="7.3" height="7.3" fill="#b5f9ff"/><rect x="416.3" y="753.0" width="7.3" height="7.3" fill="#bafaff"/><rect x="423.3" y="753.0" width="7.3" height="7.3" fill="#bffbff"/><rect x="430.3" y="753.0" width="7.3" height="7.3" fill="#c3fbff"/><rect x="437.3" y="753.0" width="7.3" height="7.3" fill="#c8fcff"/><rect x="444.3" y="753.0" width="7.3" height="7.3" fill="#cffcff"/><rect x="451.3" y="753.0" width="7.3" height="7.3" fill="#d5fcff"/><rect x="458.3" y="753.0" width="7.3" height="7.3" fill="#dcfcff"/><rect x="465.3" y="753.0" width="7.3" height="7.3" fill="#e2fcff"/><rect x="472.3" y="753.0" width="7.3" height="7.3" fill="#e9fcff"/><rect x="479.3" y="753.0" width="7.3" height="7.3" fill="#effcfe"/><rect x="486.3" y="753.0" width="7.3" height="7.3" fill="#f2fbfd"/><rect x="493.3" y="753.0" width="7.3" height="7.3" fill="#f4fbfb"/><rect x="500.3" y="753.0" width="7.3" height="7.3" fill="#f7fafa"/><rect x="507.3" y="753.0" width="7.3" height="7.3" fill="#fafaf8"/><rect x="514.3" y="753.0" width="7.3" height="7.3" fill="#fdf9f7"/><rect x="521.3" y="753.0" width="7.3" height="7.3" fill="#fff8f4"/><rect x="528.3" y="753.0" width="7.3" height="7.3" fill="#fff4f1"/><rect x="535.3" y="753.0" width="7.3" height="7.3" fill="#fff1ed"/><rect x="542.3" y="753.0" width="7.3" height="7.3" fill="#ffeeea"/><rect x="549.3" y="753.0" width="7.3" height="7.3" fill="#ffebe6"/><rect x="556.3" y="753.0" width="7.3" height="7.3" fill="#ffe8e2"/><rect x="563.3" y="753.0" width="7.3" height="7.3" fill="#ffe5df"/><rect x="570.3" y="753.0" width="7.3" height="7.3" fill="#ffe1db"/><rect x="577.3" y="753.0" width="7.3" height="7.3" fill="#ffdcd6"/><rect x="584.3" y="753.0" width="7.3" height="7.3" fill="#ffd8d2"/><rect x="591.3" y="753.0" width="7.3" height="7.3" fill="#ffd3ce"/><rect x="598.3" y="753.0" width="7.3" height="7.3" fill="#ffcec9"/><rect x="605.3" y="753.0" width="7.3" height="7.3" fill="#ffc9c5"/><rect x="612.3" y="753.0" width="7.3" height="7.3" fill="#ffc5c0"/><rect x="619.3" y="753.0" width="7.3" height="7.3" fill="#ffc0bc"/><rect x="626.3" y="753.0" width="7.3" height="7.3" fill="#ffbbb7"/><rect x="633.3" y="753.0" width="7.3" height="7.3" fill="#ffb7b3"/><rect x="640.3" y="753.0" width="7.3" height="7.3" fill="#ffb2ae"/><rect x="367.3" y="760.0" width="7.3" height="7.3" fill="#9cf1ff"/><rect x="374.3" y="760.0" width="7.3" height="7.3" fill="#a0f2ff"/><rect x="381.3" y="760.0" width="7.3" height="7.3" fill="#a5f3ff"/><rect x="388.3" y="760.0" width="7.3" height="7.3" fill="#a9f3ff"/><rect x="395.3" y="760.0" width="7.3" height="7.3" fill="#aef4ff"/><rect x="402.3" y="760.0" width="7.3" height="7.3" fill="#b2f5ff"/><rect x="409.3" y="760.0" width="7.3" height="7.3" fill="#b7f6ff"/><rect x="416.3" y="760.0" width="7.3" height="7.3" fill="#bbf6ff"/><rect x="423.3" y="760.0" width="7.3" height="7.3" fill="#c0f7ff"/><rect x="430.3" y="760.0" width="7.3" height="7.3" fill="#c4f8ff"/><rect x="437.3" y="760.0" width="7.3" height="7.3" fill="#c9f8ff"/><rect x="444.3" y="760.0" width="7.3" height="7.3" fill="#cff8ff"/><rect x="451.3" y="760.0" width="7.3" height="7.3" fill="#d6f8ff"/><rect x="458.3" y="760.0" width="7.3" height="7.3" fill="#dcf8ff"/><rect x="465.3" y="760.0" width="7.3" height="7.3" fill="#e2f8ff"/><rect x="472.3" y="760.0" width="7.3" height="7.3" fill="#e9f8ff"/><rect x="479.3" y="760.0" width="7.3" height="7.3" fill="#eef8ff"/><rect x="486.3" y="760.0" width="7.3" height="7.3" fill="#f1f8fd"/><rect x="493.3" y="760.0" width="7.3" height="7.3" fill="#f4f7fc"/><rect x="500.3" y="760.0" width="7.3" height="7.3" fill="#f7f7fa"/><rect x="507.3" y="760.0" width="7.3" height="7.3" fill="#faf6f9"/><rect x="514.3" y="760.0" width="7.3" height="7.3" fill="#fdf6f8"/><rect x="521.3" y="760.0" width="7.3" height="7.3" fill="#fff4f5"/><rect x="528.3" y="760.0" width="7.3" height="7.3" fill="#fff1f2"/><rect x="535.3" y="760.0" width="7.3" height="7.3" fill="#ffeeee"/><rect x="542.3" y="760.0" width="7.3" height="7.3" fill="#ffeaea"/><rect x="549.3" y="760.0" width="7.3" height="7.3" fill="#ffe7e7"/><rect x="556.3" y="760.0" width="7.3" height="7.3" fill="#ffe4e3"/><rect x="563.3" y="760.0" width="7.3" height="7.3" fill="#ffe1df"/><rect x="570.3" y="760.0" width="7.3" height="7.3" fill="#ffdedb"/><rect x="577.3" y="760.0" width="7.3" height="7.3" fill="#ffd9d7"/><rect x="584.3" y="760.0" width="7.3" height="7.3" fill="#ffd4d3"/><rect x="591.3" y="760.0" width="7.3" height="7.3" fill="#ffcfce"/><rect x="598.3" y="760.0" width="7.3" height="7.3" fill="#ffcbca"/><rect x="605.3" y="760.0" width="7.3" height="7.3" fill="#ffc6c6"/><rect x="612.3" y="760.0" width="7.3" height="7.3" fill="#ffc1c1"/><rect x="619.3" y="760.0" width="7.3" height="7.3" fill="#ffbcbd"/><rect x="626.3" y="760.0" width="7.3" height="7.3" fill="#ffb8b9"/><rect x="633.3" y="760.0" width="7.3" height="7.3" fill="#ffb3b4"/><rect x="640.3" y="760.0" width="7.3" height="7.3" fill="#ffaeb0"/><rect x="367.3" y="767.0" width="7.3" height="7.3" fill="#9eeeff"/><rect x="374.3" y="767.0" width="7.3" height="7.3" fill="#a2efff"/><rect x="381.3" y="767.0" width="7.3" height="7.3" fill="#a6efff"/><rect x="388.3" y="767.0" width="7.3" height="7.3" fill="#abf0ff"/><rect x="395.3" y="767.0" width="7.3" height="7.3" fill="#aff1ff"/><rect x="402.3" y="767.0" width="7.3" height="7.3" fill="#b3f1ff"/><rect x="409.3" y="767.0" width="7.3" height="7.3" fill="#b8f2ff"/><rect x="416.3" y="767.0" width="7.3" height="7.3" fill="#bcf3ff"/><rect x="423.3" y="767.0" width="7.3" height="7.3" fill="#c1f3ff"/><rect x="430.3" y="767.0" width="7.3" height="7.3" fill="#c5f4ff"/><rect x="437.3" y="767.0" width="7.3" height="7.3" fill="#c9f5ff"/><rect x="444.3" y="767.0" width="7.3" height="7.3" fill="#d0f5ff"/><rect x="451.3" y="767.0" width="7.3" height="7.3" fill="#d6f5ff"/><rect x="458.3" y="767.0" width="7.3" height="7.3" fill="#dcf5ff"/><rect x="465.3" y="767.0" width="7.3" height="7.3" fill="#e2f5ff"/><rect x="472.3" y="767.0" width="7.3" height="7.3" fill="#e9f5ff"/><rect x="479.3" y="767.0" width="7.3" height="7.3" fill="#eef5ff"/><rect x="486.3" y="767.0" width="7.3" height="7.3" fill="#f1f4fd"/><rect x="493.3" y="767.0" width="7.3" height="7.3" fill="#f4f3fc"/><rect x="500.3" y="767.0" width="7.3" height="7.3" fill="#f7f3fb"/><rect x="507.3" y="767.0" width="7.3" height="7.3" fill="#faf2fa"/><rect x="514.3" y="767.0" width="7.3" height="7.3" fill="#fdf2f8"/><rect x="521.3" y="767.0" width="7.3" height="7.3" fill="#fef0f6"/><rect x="528.3" y="767.0" width="7.3" height="7.3" fill="#ffedf2"/><rect x="535.3" y="767.0" width="7.3" height="7.3" fill="#ffeaef"/><rect x="542.3" y="767.0" width="7.3" height="7.3" fill="#ffe7eb"/><rect x="549.3" y="767.0" width="7.3" height="7.3" fill="#ffe4e7"/><rect x="556.3" y="767.0" width="7.3" height="7.3" fill="#ffe1e4"/><rect x="563.3" y="767.0" width="7.3" height="7.3" fill="#ffdee0"/><rect x="570.3" y="767.0" width="7.3" height="7.3" fill="#ffdadc"/><rect x="577.3" y="767.0" width="7.3" height="7.3" fill="#ffd5d8"/><rect x="584.3" y="767.0" width="7.3" height="7.3" fill="#ffd0d4"/><rect x="591.3" y="767.0" width="7.3" height="7.3" fill="#ffcccf"/><rect x="598.3" y="767.0" width="7.3" height="7.3" fill="#ffc7cb"/><rect x="605.3" y="767.0" width="7.3" height="7.3" fill="#ffc2c7"/><rect x="612.3" y="767.0" width="7.3" height="7.3" fill="#ffbdc3"/><rect x="619.3" y="767.0" width="7.3" height="7.3" fill="#ffb9be"/><rect x="626.3" y="767.0" width="7.3" height="7.3" fill="#ffb4ba"/><rect x="633.3" y="767.0" width="7.3" height="7.3" fill="#ffafb6"/><rect x="640.3" y="767.0" width="7.3" height="7.3" fill="#ffaab1"/><rect x="367.3" y="774.0" width="7.3" height="7.3" fill="#9feaff"/><rect x="374.3" y="774.0" width="7.3" height="7.3" fill="#a4ebff"/><rect x="381.3" y="774.0" width="7.3" height="7.3" fill="#a8ecff"/><rect x="388.3" y="774.0" width="7.3" height="7.3" fill="#acecff"/><rect x="395.3" y="774.0" width="7.3" height="7.3" fill="#b0edff"/><rect x="402.3" y="774.0" width="7.3" height="7.3" fill="#b5eeff"/><rect x="409.3" y="774.0" width="7.3" height="7.3" fill="#b9eeff"/><rect x="416.3" y="774.0" width="7.3" height="7.3" fill="#bdefff"/><rect x="423.3" y="774.0" width="7.3" height="7.3" fill="#c1f0ff"/><rect x="430.3" y="774.0" width="7.3" height="7.3" fill="#c6f0ff"/><rect x="437.3" y="774.0" width="7.3" height="7.3" fill="#caf1ff"/><rect x="444.3" y="774.0" width="7.3" height="7.3" fill="#d0f1ff"/><rect x="451.3" y="774.0" width="7.3" height="7.3" fill="#d6f1ff"/><rect x="458.3" y="774.0" width="7.3" height="7.3" fill="#dcf1ff"/><rect x="465.3" y="774.0" width="7.3" height="7.3" fill="#e2f1ff"/><rect x="472.3" y="774.0" width="7.3" height="7.3" fill="#e9f1ff"/><rect x="479.3" y="774.0" width="7.3" height="7.3" fill="#eef1ff"/><rect x="486.3" y="774.0" width="7.3" height="7.3" fill="#f1f0fe"/><rect x="493.3" y="774.0" width="7.3" height="7.3" fill="#f4f0fd"/><rect x="500.3" y="774.0" width="7.3" height="7.3" fill="#f7effb"/><rect x="507.3" y="774.0" width="7.3" height="7.3" fill="#faeefa"/><rect x="514.3" y="774.0" width="7.3" height="7.3" fill="#fdeef9"/><rect x="521.3" y="774.0" width="7.3" height="7.3" fill="#feecf7"/><rect x="528.3" y="774.0" width="7.3" height="7.3" fill="#fee9f3"/><rect x="535.3" y="774.0" width="7.3" height="7.3" fill="#fee6f0"/><rect x="542.3" y="774.0" width="7.3" height="7.3" fill="#ffe3ec"/><rect x="549.3" y="774.0" width="7.3" height="7.3" fill="#ffe0e8"/><rect x="556.3" y="774.0" width="7.3" height="7.3" fill="#ffdde4"/><rect x="563.3" y="774.0" width="7.3" height="7.3" fill="#ffdae1"/><rect x="570.3" y="774.0" width="7.3" height="7.3" fill="#ffd7dd"/><rect x="577.3" y="774.0" width="7.3" height="7.3" fill="#ffd2d9"/><rect x="584.3" y="774.0" width="7.3" height="7.3" fill="#ffcdd4"/><rect x="591.3" y="774.0" width="7.3" height="7.3" fill="#ffc8d0"/><rect x="598.3" y="774.0" width="7.3" height="7.3" fill="#ffc3cc"/><rect x="605.3" y="774.0" width="7.3" height="7.3" fill="#ffbec8"/><rect x="612.3" y="774.0" width="7.3" height="7.3" fill="#ffbac4"/><rect x="619.3" y="774.0" width="7.3" height="7.3" fill="#ffb5c0"/><rect x="626.3" y="774.0" width="7.3" height="7.3" fill="#ffb0bb"/><rect x="633.3" y="774.0" width="7.3" height="7.3" fill="#ffabb7"/><rect x="640.3" y="774.0" width="7.3" height="7.3" fill="#ffa6b3"/><rect x="367.3" y="781.0" width="7.3" height="7.3" fill="#a1e7ff"/><rect x="374.3" y="781.0" width="7.3" height="7.3" fill="#a5e8ff"/><rect x="381.3" y="781.0" width="7.3" height="7.3" fill="#a9e8ff"/><rect x="388.3" y="781.0" width="7.3" height="7.3" fill="#aee9ff"/><rect x="395.3" y="781.0" width="7.3" height="7.3" fill="#b2eaff"/><rect x="402.3" y="781.0" width="7.3" height="7.3" fill="#b6eaff"/><rect x="409.3" y="781.0" width="7.3" height="7.3" fill="#baebff"/><rect x="416.3" y="781.0" width="7.3" height="7.3" fill="#beebff"/><rect x="423.3" y="781.0" width="7.3" height="7.3" fill="#c2ecff"/><rect x="430.3" y="781.0" width="7.3" height="7.3" fill="#c6edff"/><rect x="437.3" y="781.0" width="7.3" height="7.3" fill="#cbedff"/><rect x="444.3" y="781.0" width="7.3" height="7.3" fill="#d1edff"/><rect x="451.3" y="781.0" width="7.3" height="7.3" fill="#d7edff"/><rect x="458.3" y="781.0" width="7.3" height="7.3" fill="#dcedff"/><rect x="465.3" y="781.0" width="7.3" height="7.3" fill="#e2edff"/><rect x="472.3" y="781.0" width="7.3" height="7.3" fill="#e8edff"/><rect x="479.3" y="781.0" width="7.3" height="7.3" fill="#eeedff"/><rect x="486.3" y="781.0" width="7.3" height="7.3" fill="#f0ecfe"/><rect x="493.3" y="781.0" width="7.3" height="7.3" fill="#f3ecfd"/><rect x="500.3" y="781.0" width="7.3" height="7.3" fill="#f6ebfc"/><rect x="507.3" y="781.0" width="7.3" height="7.3" fill="#f9ebfb"/><rect x="514.3" y="781.0" width="7.3" height="7.3" fill="#fceafa"/><rect x="521.3" y="781.0" width="7.3" height="7.3" fill="#fee8f8"/><rect x="528.3" y="781.0" width="7.3" height="7.3" fill="#fee5f4"/><rect x="535.3" y="781.0" width="7.3" height="7.3" fill="#fee2f0"/><rect x="542.3" y="781.0" width="7.3" height="7.3" fill="#fedfed"/><rect x="549.3" y="781.0" width="7.3" height="7.3" fill="#ffdce9"/><rect x="556.3" y="781.0" width="7.3" height="7.3" fill="#ffdae5"/><rect x="563.3" y="781.0" width="7.3" height="7.3" fill="#ffd7e1"/><rect x="570.3" y="781.0" width="7.3" height="7.3" fill="#ffd3dd"/><rect x="577.3" y="781.0" width="7.3" height="7.3" fill="#ffced9"/><rect x="584.3" y="781.0" width="7.3" height="7.3" fill="#ffc9d5"/><rect x="591.3" y="781.0" width="7.3" height="7.3" fill="#ffc4d1"/><rect x="598.3" y="781.0" width="7.3" height="7.3" fill="#ffc0cd"/><rect x="605.3" y="781.0" width="7.3" height="7.3" fill="#ffbbc9"/><rect x="612.3" y="781.0" width="7.3" height="7.3" fill="#ffb6c5"/><rect x="619.3" y="781.0" width="7.3" height="7.3" fill="#ffb1c1"/><rect x="626.3" y="781.0" width="7.3" height="7.3" fill="#ffacbd"/><rect x="633.3" y="781.0" width="7.3" height="7.3" fill="#ffa7b9"/><rect x="640.3" y="781.0" width="7.3" height="7.3" fill="#ffa2b4"/><rect x="367.3" y="788.0" width="7.3" height="7.3" fill="#a3e4ff"/><rect x="374.3" y="788.0" width="7.3" height="7.3" fill="#a7e4ff"/><rect x="381.3" y="788.0" width="7.3" height="7.3" fill="#abe5ff"/><rect x="388.3" y="788.0" width="7.3" height="7.3" fill="#afe5ff"/><rect x="395.3" y="788.0" width="7.3" height="7.3" fill="#b3e6ff"/><rect x="402.3" y="788.0" width="7.3" height="7.3" fill="#b7e7ff"/><rect x="409.3" y="788.0" width="7.3" height="7.3" fill="#bbe7ff"/><rect x="416.3" y="788.0" width="7.3" height="7.3" fill="#bfe8ff"/><rect x="423.3" y="788.0" width="7.3" height="7.3" fill="#c3e8ff"/><rect x="430.3" y="788.0" width="7.3" height="7.3" fill="#c7e9ff"/><rect x="437.3" y="788.0" width="7.3" height="7.3" fill="#cbe9ff"/><rect x="444.3" y="788.0" width="7.3" height="7.3" fill="#d1e9ff"/><rect x="451.3" y="788.0" width="7.3" height="7.3" fill="#d7e9ff"/><rect x="458.3" y="788.0" width="7.3" height="7.3" fill="#dde9ff"/><rect x="465.3" y="788.0" width="7.3" height="7.3" fill="#e2e9ff"/><rect x="472.3" y="788.0" width="7.3" height="7.3" fill="#e8e9ff"/><rect x="479.3" y="788.0" width="7.3" height="7.3" fill="#ede9ff"/><rect x="486.3" y="788.0" width="7.3" height="7.3" fill="#f0e9fe"/><rect x="493.3" y="788.0" width="7.3" height="7.3" fill="#f3e8fd"/><rect x="500.3" y="788.0" width="7.3" height="7.3" fill="#f6e7fd"/><rect x="507.3" y="788.0" width="7.3" height="7.3" fill="#f9e7fc"/><rect x="514.3" y="788.0" width="7.3" height="7.3" fill="#fce6fb"/><rect x="521.3" y="788.0" width="7.3" height="7.3" fill="#fee4f9"/><rect x="528.3" y="788.0" width="7.3" height="7.3" fill="#fee1f5"/><rect x="535.3" y="788.0" width="7.3" height="7.3" fill="#fedff1"/><rect x="542.3" y="788.0" width="7.3" height="7.3" fill="#fedced"/><rect x="549.3" y="788.0" width="7.3" height="7.3" fill="#fed9ea"/><rect x="556.3" y="788.0" width="7.3" height="7.3" fill="#ffd6e6"/><rect x="563.3" y="788.0" width="7.3" height="7.3" fill="#ffd3e2"/><rect x="570.3" y="788.0" width="7.3" height="7.3" fill="#ffd0de"/><rect x="577.3" y="788.0" width="7.3" height="7.3" fill="#ffcbda"/><rect x="584.3" y="788.0" width="7.3" height="7.3" fill="#ffc6d6"/><rect x="591.3" y="788.0" width="7.3" height="7.3" fill="#ffc1d2"/><rect x="598.3" y="788.0" width="7.3" height="7.3" fill="#ffbcce"/><rect x="605.3" y="788.0" width="7.3" height="7.3" fill="#ffb7ca"/><rect x="612.3" y="788.0" width="7.3" height="7.3" fill="#ffb2c6"/><rect x="619.3" y="788.0" width="7.3" height="7.3" fill="#ffadc2"/><rect x="626.3" y="788.0" width="7.3" height="7.3" fill="#ffa8be"/><rect x="633.3" y="788.0" width="7.3" height="7.3" fill="#ffa3ba"/><rect x="640.3" y="788.0" width="7.3" height="7.3" fill="#ff9eb6"/><rect x="367.3" y="795.0" width="7.3" height="7.3" fill="#a5e0ff"/><rect x="374.3" y="795.0" width="7.3" height="7.3" fill="#a9e1ff"/><rect x="381.3" y="795.0" width="7.3" height="7.3" fill="#ade1ff"/><rect x="388.3" y="795.0" width="7.3" height="7.3" fill="#b1e2ff"/><rect x="395.3" y="795.0" width="7.3" height="7.3" fill="#b4e2ff"/><rect x="402.3" y="795.0" width="7.3" height="7.3" fill="#b8e3ff"/><rect x="409.3" y="795.0" width="7.3" height="7.3" fill="#bce4ff"/><rect x="416.3" y="795.0" width="7.3" height="7.3" fill="#c0e4ff"/><rect x="423.3" y="795.0" width="7.3" height="7.3" fill="#c4e5ff"/><rect x="430.3" y="795.0" width="7.3" height="7.3" fill="#c8e5ff"/><rect x="437.3" y="795.0" width="7.3" height="7.3" fill="#cce6ff"/><rect x="444.3" y="795.0" width="7.3" height="7.3" fill="#d2e6ff"/><rect x="451.3" y="795.0" width="7.3" height="7.3" fill="#d7e6ff"/><rect x="458.3" y="795.0" width="7.3" height="7.3" fill="#dde6ff"/><rect x="465.3" y="795.0" width="7.3" height="7.3" fill="#e2e6ff"/><rect x="472.3" y="795.0" width="7.3" height="7.3" fill="#e8e6ff"/><rect x="479.3" y="795.0" width="7.3" height="7.3" fill="#ede5ff"/><rect x="486.3" y="795.0" width="7.3" height="7.3" fill="#f0e5fe"/><rect x="493.3" y="795.0" width="7.3" height="7.3" fill="#f3e4fe"/><rect x="500.3" y="795.0" width="7.3" height="7.3" fill="#f6e3fd"/><rect x="507.3" y="795.0" width="7.3" height="7.3" fill="#f9e3fc"/><rect x="514.3" y="795.0" width="7.3" height="7.3" fill="#fce2fc"/><rect x="521.3" y="795.0" width="7.3" height="7.3" fill="#fde0fa"/><rect x="528.3" y="795.0" width="7.3" height="7.3" fill="#fedef6"/><rect x="535.3" y="795.0" width="7.3" height="7.3" fill="#fedbf2"/><rect x="542.3" y="795.0" width="7.3" height="7.3" fill="#fed8ee"/><rect x="549.3" y="795.0" width="7.3" height="7.3" fill="#fed5ea"/><rect x="556.3" y="795.0" width="7.3" height="7.3" fill="#ffd2e6"/><rect x="563.3" y="795.0" width="7.3" height="7.3" fill="#ffd0e3"/><rect x="570.3" y="795.0" width="7.3" height="7.3" fill="#ffccdf"/><rect x="577.3" y="795.0" width="7.3" height="7.3" fill="#ffc7db"/><rect x="584.3" y="795.0" width="7.3" height="7.3" fill="#ffc2d7"/><rect x="591.3" y="795.0" width="7.3" height="7.3" fill="#ffbdd3"/><rect x="598.3" y="795.0" width="7.3" height="7.3" fill="#ffb8cf"/><rect x="605.3" y="795.0" width="7.3" height="7.3" fill="#ffb3cb"/><rect x="612.3" y="795.0" width="7.3" height="7.3" fill="#ffaec7"/><rect x="619.3" y="795.0" width="7.3" height="7.3" fill="#ffa9c3"/><rect x="626.3" y="795.0" width="7.3" height="7.3" fill="#ffa4bf"/><rect x="633.3" y="795.0" width="7.3" height="7.3" fill="#ff9fbb"/><rect x="640.3" y="795.0" width="7.3" height="7.3" fill="#ff9ab8"/><rect x="367.3" y="802.0" width="7.3" height="7.3" fill="#a6ddff"/><rect x="374.3" y="802.0" width="7.3" height="7.3" fill="#aadeff"/><rect x="381.3" y="802.0" width="7.3" height="7.3" fill="#aedeff"/><rect x="388.3" y="802.0" width="7.3" height="7.3" fill="#b2dfff"/><rect x="395.3" y="802.0" width="7.3" height="7.3" fill="#b5dfff"/><rect x="402.3" y="802.0" width="7.3" height="7.3" fill="#b9e0ff"/><rect x="409.3" y="802.0" width="7.3" height="7.3" fill="#bde0ff"/><rect x="416.3" y="802.0" width="7.3" height="7.3" fill="#c1e0ff"/><rect x="423.3" y="802.0" width="7.3" height="7.3" fill="#c5e1ff"/><rect x="430.3" y="802.0" width="7.3" height="7.3" fill="#c8e1ff"/><rect x="437.3" y="802.0" width="7.3" height="7.3" fill="#cce2ff"/><rect x="444.3" y="802.0" width="7.3" height="7.3" fill="#d2e2ff"/><rect x="451.3" y="802.0" width="7.3" height="7.3" fill="#d7e2ff"/><rect x="458.3" y="802.0" width="7.3" height="7.3" fill="#dde2ff"/><rect x="465.3" y="802.0" width="7.3" height="7.3" fill="#e2e2ff"/><rect x="472.3" y="802.0" width="7.3" height="7.3" fill="#e8e2ff"/><rect x="479.3" y="802.0" width="7.3" height="7.3" fill="#ece2ff"/><rect x="486.3" y="802.0" width="7.3" height="7.3" fill="#efe1fe"/><rect x="493.3" y="802.0" width="7.3" height="7.3" fill="#f2e0fe"/><rect x="500.3" y="802.0" width="7.3" height="7.3" fill="#f5dffd"/><rect x="507.3" y="802.0" width="7.3" height="7.3" fill="#f8dffd"/><rect x="514.3" y="802.0" width="7.3" height="7.3" fill="#fbdefc"/><rect x="521.3" y="802.0" width="7.3" height="7.3" fill="#fddcfa"/><rect x="528.3" y="802.0" width="7.3" height="7.3" fill="#fdd9f6"/><rect x="535.3" y="802.0" width="7.3" height="7.3" fill="#fed7f2"/><rect x="542.3" y="802.0" width="7.3" height="7.3" fill="#fed4ee"/><rect x="549.3" y="802.0" width="7.3" height="7.3" fill="#fed1ea"/><rect x="556.3" y="802.0" width="7.3" height="7.3" fill="#fecee6"/><rect x="563.3" y="802.0" width="7.3" height="7.3" fill="#ffcce3"/><rect x="570.3" y="802.0" width="7.3" height="7.3" fill="#ffc8df"/><rect x="577.3" y="802.0" width="7.3" height="7.3" fill="#ffc3db"/><rect x="584.3" y="802.0" width="7.3" height="7.3" fill="#ffbed7"/><rect x="591.3" y="802.0" width="7.3" height="7.3" fill="#ffb9d3"/><rect x="598.3" y="802.0" width="7.3" height="7.3" fill="#ffb4cf"/><rect x="605.3" y="802.0" width="7.3" height="7.3" fill="#ffb0cb"/><rect x="612.3" y="802.0" width="7.3" height="7.3" fill="#ffabc7"/><rect x="619.3" y="802.0" width="7.3" height="7.3" fill="#ffa6c3"/><rect x="626.3" y="802.0" width="7.3" height="7.3" fill="#ffa1bf"/><rect x="633.3" y="802.0" width="7.3" height="7.3" fill="#ff9cbb"/><rect x="640.3" y="802.0" width="7.3" height="7.3" fill="#ff97b7"/><rect x="367.3" y="809.0" width="7.3" height="7.3" fill="#a8daff"/><rect x="374.3" y="809.0" width="7.3" height="7.3" fill="#abdbff"/><rect x="381.3" y="809.0" width="7.3" height="7.3" fill="#afdbff"/><rect x="388.3" y="809.0" width="7.3" height="7.3" fill="#b3dbff"/><rect x="395.3" y="809.0" width="7.3" height="7.3" fill="#b6dcff"/><rect x="402.3" y="809.0" width="7.3" height="7.3" fill="#badcff"/><rect x="409.3" y="809.0" width="7.3" height="7.3" fill="#bdddff"/><rect x="416.3" y="809.0" width="7.3" height="7.3" fill="#c1ddff"/><rect x="423.3" y="809.0" width="7.3" height="7.3" fill="#c5ddff"/><rect x="430.3" y="809.0" width="7.3" height="7.3" fill="#c8deff"/><rect x="437.3" y="809.0" width="7.3" height="7.3" fill="#ccdeff"/><rect x="444.3" y="809.0" width="7.3" height="7.3" fill="#d2deff"/><rect x="451.3" y="809.0" width="7.3" height="7.3" fill="#d7deff"/><rect x="458.3" y="809.0" width="7.3" height="7.3" fill="#dcdeff"/><rect x="465.3" y="809.0" width="7.3" height="7.3" fill="#e2deff"/><rect x="472.3" y="809.0" width="7.3" height="7.3" fill="#e7deff"/><rect x="479.3" y="809.0" width="7.3" height="7.3" fill="#ecdeff"/><rect x="486.3" y="809.0" width="7.3" height="7.3" fill="#efddfe"/><rect x="493.3" y="809.0" width="7.3" height="7.3" fill="#f2dcfe"/><rect x="500.3" y="809.0" width="7.3" height="7.3" fill="#f5dbfd"/><rect x="507.3" y="809.0" width="7.3" height="7.3" fill="#f8dafd"/><rect x="514.3" y="809.0" width="7.3" height="7.3" fill="#fbdafc"/><rect x="521.3" y="809.0" width="7.3" height="7.3" fill="#fdd8fa"/><rect x="528.3" y="809.0" width="7.3" height="7.3" fill="#fdd5f6"/><rect x="535.3" y="809.0" width="7.3" height="7.3" fill="#fed2f2"/><rect x="542.3" y="809.0" width="7.3" height="7.3" fill="#fecfee"/><rect x="549.3" y="809.0" width="7.3" height="7.3" fill="#fecdea"/><rect x="556.3" y="809.0" width="7.3" height="7.3" fill="#fecae6"/><rect x="563.3" y="809.0" width="7.3" height="7.3" fill="#ffc7e2"/><rect x="570.3" y="809.0" width="7.3" height="7.3" fill="#ffc4de"/><rect x="577.3" y="809.0" width="7.3" height="7.3" fill="#ffbfda"/><rect x="584.3" y="809.0" width="7.3" height="7.3" fill="#ffbad6"/><rect x="591.3" y="809.0" width="7.3" height="7.3" fill="#ffb5d1"/><rect x="598.3" y="809.0" width="7.3" height="7.3" fill="#ffb0cd"/><rect x="605.3" y="809.0" width="7.3" height="7.3" fill="#ffacc9"/><rect x="612.3" y="809.0" width="7.3" height="7.3" fill="#ffa7c5"/><rect x="619.3" y="809.0" width="7.3" height="7.3" fill="#ffa2c1"/><rect x="626.3" y="809.0" width="7.3" height="7.3" fill="#ff9dbd"/><rect x="633.3" y="809.0" width="7.3" height="7.3" fill="#ff98b9"/><rect x="640.3" y="809.0" width="7.3" height="7.3" fill="#ff93b4"/><rect x="367.3" y="816.0" width="7.3" height="7.3" fill="#a9d7ff"/><rect x="374.3" y="816.0" width="7.3" height="7.3" fill="#acd8ff"/><rect x="381.3" y="816.0" width="7.3" height="7.3" fill="#b0d8ff"/><rect x="388.3" y="816.0" width="7.3" height="7.3" fill="#b3d8ff"/><rect x="395.3" y="816.0" width="7.3" height="7.3" fill="#b7d8ff"/><rect x="402.3" y="816.0" width="7.3" height="7.3" fill="#bad9ff"/><rect x="409.3" y="816.0" width="7.3" height="7.3" fill="#bed9ff"/><rect x="416.3" y="816.0" width="7.3" height="7.3" fill="#c1d9ff"/><rect x="423.3" y="816.0" width="7.3" height="7.3" fill="#c5daff"/><rect x="430.3" y="816.0" width="7.3" height="7.3" fill="#c9daff"/><rect x="437.3" y="816.0" width="7.3" height="7.3" fill="#ccdaff"/><rect x="444.3" y="816.0" width="7.3" height="7.3" fill="#d1daff"/><rect x="451.3" y="816.0" width="7.3" height="7.3" fill="#d7daff"/><rect x="458.3" y="816.0" width="7.3" height="7.3" fill="#dcdaff"/><rect x="465.3" y="816.0" width="7.3" height="7.3" fill="#e1daff"/><rect x="472.3" y="816.0" width="7.3" height="7.3" fill="#e6daff"/><rect x="479.3" y="816.0" width="7.3" height="7.3" fill="#ebdaff"/><rect x="486.3" y="816.0" width="7.3" height="7.3" fill="#eed9fe"/><rect x="493.3" y="816.0" width="7.3" height="7.3" fill="#f1d8fe"/><rect x="500.3" y="816.0" width="7.3" height="7.3" fill="#f5d7fd"/><rect x="507.3" y="816.0" width="7.3" height="7.3" fill="#f8d6fd"/><rect x="514.3" y="816.0" width="7.3" height="7.3" fill="#fbd5fc"/><rect x="521.3" y="816.0" width="7.3" height="7.3" fill="#fdd3fa"/><rect x="528.3" y="816.0" width="7.3" height="7.3" fill="#fdd1f6"/><rect x="535.3" y="816.0" width="7.3" height="7.3" fill="#fdcef2"/><rect x="542.3" y="816.0" width="7.3" height="7.3" fill="#fecbee"/><rect x="549.3" y="816.0" width="7.3" height="7.3" fill="#fec8ea"/><rect x="556.3" y="816.0" width="7.3" height="7.3" fill="#fec6e6"/><rect x="563.3" y="816.0" width="7.3" height="7.3" fill="#ffc3e1"/><rect x="570.3" y="816.0" width="7.3" height="7.3" fill="#ffbfdd"/><rect x="577.3" y="816.0" width="7.3" height="7.3" fill="#ffbbd9"/><rect x="584.3" y="816.0" width="7.3" height="7.3" fill="#ffb6d5"/><rect x="591.3" y="816.0" width="7.3" height="7.3" fill="#ffb1d0"/><rect x="598.3" y="816.0" width="7.3" height="7.3" fill="#ffaccc"/><rect x="605.3" y="816.0" width="7.3" height="7.3" fill="#ffa8c8"/><rect x="612.3" y="816.0" width="7.3" height="7.3" fill="#ffa3c3"/><rect x="619.3" y="816.0" width="7.3" height="7.3" fill="#ff9ebf"/><rect x="626.3" y="816.0" width="7.3" height="7.3" fill="#ff99bb"/><rect x="633.3" y="816.0" width="7.3" height="7.3" fill="#ff95b6"/><rect x="640.3" y="816.0" width="7.3" height="7.3" fill="#ff90b2"/><rect x="367.3" y="823.0" width="7.3" height="7.3" fill="#aad4ff"/><rect x="374.3" y="823.0" width="7.3" height="7.3" fill="#add5ff"/><rect x="381.3" y="823.0" width="7.3" height="7.3" fill="#b1d5ff"/><rect x="388.3" y="823.0" width="7.3" height="7.3" fill="#b4d5ff"/><rect x="395.3" y="823.0" width="7.3" height="7.3" fill="#b8d5ff"/><rect x="402.3" y="823.0" width="7.3" height="7.3" fill="#bbd5ff"/><rect x="409.3" y="823.0" width="7.3" height="7.3" fill="#bed6ff"/><rect x="416.3" y="823.0" width="7.3" height="7.3" fill="#c2d6ff"/><rect x="423.3" y="823.0" width="7.3" height="7.3" fill="#c5d6ff"/><rect x="430.3" y="823.0" width="7.3" height="7.3" fill="#c9d6ff"/><rect x="437.3" y="823.0" width="7.3" height="7.3" fill="#ccd7ff"/><rect x="444.3" y="823.0" width="7.3" height="7.3" fill="#d1d7ff"/><rect x="451.3" y="823.0" width="7.3" height="7.3" fill="#d6d7ff"/><rect x="458.3" y="823.0" width="7.3" height="7.3" fill="#dcd7ff"/><rect x="465.3" y="823.0" width="7.3" height="7.3" fill="#e1d7ff"/><rect x="472.3" y="823.0" width="7.3" height="7.3" fill="#e6d7ff"/><rect x="479.3" y="823.0" width="7.3" height="7.3" fill="#ebd6ff"/><rect x="486.3" y="823.0" width="7.3" height="7.3" fill="#eed5fe"/><rect x="493.3" y="823.0" width="7.3" height="7.3" fill="#f1d4fe"/><rect x="500.3" y="823.0" width="7.3" height="7.3" fill="#f4d3fd"/><rect x="507.3" y="823.0" width="7.3" height="7.3" fill="#f8d2fd"/><rect x="514.3" y="823.0" width="7.3" height="7.3" fill="#fbd1fc"/><rect x="521.3" y="823.0" width="7.3" height="7.3" fill="#fdcffa"/><rect x="528.3" y="823.0" width="7.3" height="7.3" fill="#fdccf6"/><rect x="535.3" y="823.0" width="7.3" height="7.3" fill="#fdc9f2"/><rect x="542.3" y="823.0" width="7.3" height="7.3" fill="#fec7ed"/><rect x="549.3" y="823.0" width="7.3" height="7.3" fill="#fec4e9"/><rect x="556.3" y="823.0" width="7.3" height="7.3" fill="#fec1e5"/><rect x="563.3" y="823.0" width="7.3" height="7.3" fill="#ffbee1"/><rect x="570.3" y="823.0" width="7.3" height="7.3" fill="#ffbbdd"/><rect x="577.3" y="823.0" width="7.3" height="7.3" fill="#ffb6d8"/><rect x="584.3" y="823.0" width="7.3" height="7.3" fill="#ffb2d4"/><rect x="591.3" y="823.0" width="7.3" height="7.3" fill="#ffadcf"/><rect x="598.3" y="823.0" width="7.3" height="7.3" fill="#ffa8cb"/><rect x="605.3" y="823.0" width="7.3" height="7.3" fill="#ffa4c6"/><rect x="612.3" y="823.0" width="7.3" height="7.3" fill="#ff9fc2"/><rect x="619.3" y="823.0" width="7.3" height="7.3" fill="#ff9abd"/><rect x="626.3" y="823.0" width="7.3" height="7.3" fill="#ff96b9"/><rect x="633.3" y="823.0" width="7.3" height="7.3" fill="#ff91b4"/><rect x="640.3" y="823.0" width="7.3" height="7.3" fill="#ff8cb0"/><rect x="367.3" y="830.0" width="7.3" height="7.3" fill="#abd1ff"/><rect x="374.3" y="830.0" width="7.3" height="7.3" fill="#aed1ff"/><rect x="381.3" y="830.0" width="7.3" height="7.3" fill="#b2d2ff"/><rect x="388.3" y="830.0" width="7.3" height="7.3" fill="#b5d2ff"/><rect x="395.3" y="830.0" width="7.3" height="7.3" fill="#b8d2ff"/><rect x="402.3" y="830.0" width="7.3" height="7.3" fill="#bcd2ff"/><rect x="409.3" y="830.0" width="7.3" height="7.3" fill="#bfd2ff"/><rect x="416.3" y="830.0" width="7.3" height="7.3" fill="#c2d2ff"/><rect x="423.3" y="830.0" width="7.3" height="7.3" fill="#c6d2ff"/><rect x="430.3" y="830.0" width="7.3" height="7.3" fill="#c9d3ff"/><rect x="437.3" y="830.0" width="7.3" height="7.3" fill="#ccd3ff"/><rect x="444.3" y="830.0" width="7.3" height="7.3" fill="#d1d3ff"/><rect x="451.3" y="830.0" width="7.3" height="7.3" fill="#d6d3ff"/><rect x="458.3" y="830.0" width="7.3" height="7.3" fill="#dbd3ff"/><rect x="465.3" y="830.0" width="7.3" height="7.3" fill="#e0d3ff"/><rect x="472.3" y="830.0" width="7.3" height="7.3" fill="#e5d3ff"/><rect x="479.3" y="830.0" width="7.3" height="7.3" fill="#ead2ff"/><rect x="486.3" y="830.0" width="7.3" height="7.3" fill="#edd1fe"/><rect x="493.3" y="830.0" width="7.3" height="7.3" fill="#f1d0fe"/><rect x="500.3" y="830.0" width="7.3" height="7.3" fill="#f4cffd"/><rect x="507.3" y="830.0" width="7.3" height="7.3" fill="#f7cefd"/><rect x="514.3" y="830.0" width="7.3" height="7.3" fill="#fbccfc"/><rect x="521.3" y="830.0" width="7.3" height="7.3" fill="#fccbfa"/><rect x="528.3" y="830.0" width="7.3" height="7.3" fill="#fdc8f6"/><rect x="535.3" y="830.0" width="7.3" height="7.3" fill="#fdc5f1"/><rect x="542.3" y="830.0" width="7.3" height="7.3" fill="#fec2ed"/><rect x="549.3" y="830.0" width="7.3" height="7.3" fill="#febfe9"/><rect x="556.3" y="830.0" width="7.3" height="7.3" fill="#febde5"/><rect x="563.3" y="830.0" width="7.3" height="7.3" fill="#ffbae0"/><rect x="570.3" y="830.0" width="7.3" height="7.3" fill="#ffb7dc"/><rect x="577.3" y="830.0" width="7.3" height="7.3" fill="#ffb2d7"/><rect x="584.3" y="830.0" width="7.3" height="7.3" fill="#ffaed3"/><rect x="591.3" y="830.0" width="7.3" height="7.3" fill="#ffa9ce"/><rect x="598.3" y="830.0" width="7.3" height="7.3" fill="#ffa4c9"/><rect x="605.3" y="830.0" width="7.3" height="7.3" fill="#ffa0c5"/><rect x="612.3" y="830.0" width="7.3" height="7.3" fill="#ff9bc0"/><rect x="619.3" y="830.0" width="7.3" height="7.3" fill="#ff97bb"/><rect x="626.3" y="830.0" width="7.3" height="7.3" fill="#ff92b6"/><rect x="633.3" y="830.0" width="7.3" height="7.3" fill="#ff8db2"/><rect x="640.3" y="830.0" width="7.3" height="7.3" fill="#ff89ad"/><rect x="367.3" y="837.0" width="7.3" height="7.3" fill="#acceff"/><rect x="374.3" y="837.0" width="7.3" height="7.3" fill="#b0ceff"/><rect x="381.3" y="837.0" width="7.3" height="7.3" fill="#b3ceff"/><rect x="388.3" y="837.0" width="7.3" height="7.3" fill="#b6cfff"/><rect x="395.3" y="837.0" width="7.3" height="7.3" fill="#b9cfff"/><rect x="402.3" y="837.0" width="7.3" height="7.3" fill="#bccfff"/><rect x="409.3" y="837.0" width="7.3" height="7.3" fill="#bfcfff"/><rect x="416.3" y="837.0" width="7.3" height="7.3" fill="#c3cfff"/><rect x="423.3" y="837.0" width="7.3" height="7.3" fill="#c6cfff"/><rect x="430.3" y="837.0" width="7.3" height="7.3" fill="#c9cfff"/><rect x="437.3" y="837.0" width="7.3" height="7.3" fill="#cccfff"/><rect x="444.3" y="837.0" width="7.3" height="7.3" fill="#d1cfff"/><rect x="451.3" y="837.0" width="7.3" height="7.3" fill="#d6cfff"/><rect x="458.3" y="837.0" width="7.3" height="7.3" fill="#dbcfff"/><rect x="465.3" y="837.0" width="7.3" height="7.3" fill="#e0cfff"/><rect x="472.3" y="837.0" width="7.3" height="7.3" fill="#e5cfff"/><rect x="479.3" y="837.0" width="7.3" height="7.3" fill="#e9cfff"/><rect x="486.3" y="837.0" width="7.3" height="7.3" fill="#edcdfe"/><rect x="493.3" y="837.0" width="7.3" height="7.3" fill="#f0ccfe"/><rect x="500.3" y="837.0" width="7.3" height="7.3" fill="#f4cbfd"/><rect x="507.3" y="837.0" width="7.3" height="7.3" fill="#f7c9fd"/><rect x="514.3" y="837.0" width="7.3" height="7.3" fill="#fac8fc"/><rect x="521.3" y="837.0" width="7.3" height="7.3" fill="#fcc6fa"/><rect x="528.3" y="837.0" width="7.3" height="7.3" fill="#fdc3f6"/><rect x="535.3" y="837.0" width="7.3" height="7.3" fill="#fdc1f1"/><rect x="542.3" y="837.0" width="7.3" height="7.3" fill="#febeed"/><rect x="549.3" y="837.0" width="7.3" height="7.3" fill="#febbe8"/><rect x="556.3" y="837.0" width="7.3" height="7.3" fill="#feb8e4"/><rect x="563.3" y="837.0" width="7.3" height="7.3" fill="#ffb6e0"/><rect x="570.3" y="837.0" width="7.3" height="7.3" fill="#ffb2db"/><rect x="577.3" y="837.0" width="7.3" height="7.3" fill="#ffaed6"/><rect x="584.3" y="837.0" width="7.3" height="7.3" fill="#ffa9d2"/><rect x="591.3" y="837.0" width="7.3" height="7.3" fill="#ffa5cd"/><rect x="598.3" y="837.0" width="7.3" height="7.3" fill="#ffa0c8"/><rect x="605.3" y="837.0" width="7.3" height="7.3" fill="#ff9cc3"/><rect x="612.3" y="837.0" width="7.3" height="7.3" fill="#ff97be"/><rect x="619.3" y="837.0" width="7.3" height="7.3" fill="#ff93b9"/><rect x="626.3" y="837.0" width="7.3" height="7.3" fill="#ff8eb4"/><rect x="633.3" y="837.0" width="7.3" height="7.3" fill="#ff8ab0"/><rect x="640.3" y="837.0" width="7.3" height="7.3" fill="#ff85ab"/><rect x="367.3" y="844.0" width="7.3" height="7.3" fill="#aecbff"/><rect x="374.3" y="844.0" width="7.3" height="7.3" fill="#b1cbff"/><rect x="381.3" y="844.0" width="7.3" height="7.3" fill="#b4cbff"/><rect x="388.3" y="844.0" width="7.3" height="7.3" fill="#b7cbff"/><rect x="395.3" y="844.0" width="7.3" height="7.3" fill="#bacbff"/><rect x="402.3" y="844.0" width="7.3" height="7.3" fill="#bdcbff"/><rect x="409.3" y="844.0" width="7.3" height="7.3" fill="#c0cbff"/><rect x="416.3" y="844.0" width="7.3" height="7.3" fill="#c3cbff"/><rect x="423.3" y="844.0" width="7.3" height="7.3" fill="#c6cbff"/><rect x="430.3" y="844.0" width="7.3" height="7.3" fill="#c9cbff"/><rect x="437.3" y="844.0" width="7.3" height="7.3" fill="#cccbff"/><rect x="444.3" y="844.0" width="7.3" height="7.3" fill="#d1cbff"/><rect x="451.3" y="844.0" width="7.3" height="7.3" fill="#d6cbff"/><rect x="458.3" y="844.0" width="7.3" height="7.3" fill="#dbcbff"/><rect x="465.3" y="844.0" width="7.3" height="7.3" fill="#dfcbff"/><rect x="472.3" y="844.0" width="7.3" height="7.3" fill="#e4cbff"/><rect x="479.3" y="844.0" width="7.3" height="7.3" fill="#e9cbff"/><rect x="486.3" y="844.0" width="7.3" height="7.3" fill="#ecc9fe"/><rect x="493.3" y="844.0" width="7.3" height="7.3" fill="#f0c8fe"/><rect x="500.3" y="844.0" width="7.3" height="7.3" fill="#f3c7fd"/><rect x="507.3" y="844.0" width="7.3" height="7.3" fill="#f7c5fd"/><rect x="514.3" y="844.0" width="7.3" height="7.3" fill="#fac4fc"/><rect x="521.3" y="844.0" width="7.3" height="7.3" fill="#fcc2fa"/><rect x="528.3" y="844.0" width="7.3" height="7.3" fill="#fdbff5"/><rect x="535.3" y="844.0" width="7.3" height="7.3" fill="#fdbcf1"/><rect x="542.3" y="844.0" width="7.3" height="7.3" fill="#fdb9ed"/><rect x="549.3" y="844.0" width="7.3" height="7.3" fill="#feb7e8"/><rect x="556.3" y="844.0" width="7.3" height="7.3" fill="#feb4e4"/><rect x="563.3" y="844.0" width="7.3" height="7.3" fill="#ffb1df"/><rect x="570.3" y="844.0" width="7.3" height="7.3" fill="#ffaedb"/><rect x="577.3" y="844.0" width="7.3" height="7.3" fill="#ffaad6"/><rect x="584.3" y="844.0" width="7.3" height="7.3" fill="#ffa5d1"/><rect x="591.3" y="844.0" width="7.3" height="7.3" fill="#ffa1cb"/><rect x="598.3" y="844.0" width="7.3" height="7.3" fill="#ff9cc6"/><rect x="605.3" y="844.0" width="7.3" height="7.3" fill="#ff98c1"/><rect x="612.3" y="844.0" width="7.3" height="7.3" fill="#ff93bc"/><rect x="619.3" y="844.0" width="7.3" height="7.3" fill="#ff8fb7"/><rect x="626.3" y="844.0" width="7.3" height="7.3" fill="#ff8bb2"/><rect x="633.3" y="844.0" width="7.3" height="7.3" fill="#ff86ad"/><rect x="640.3" y="844.0" width="7.3" height="7.3" fill="#ff82a8"/><rect x="367.3" y="851.0" width="7.3" height="7.3" fill="#afc8ff"/><rect x="374.3" y="851.0" width="7.3" height="7.3" fill="#b2c8ff"/><rect x="381.3" y="851.0" width="7.3" height="7.3" fill="#b5c8ff"/><rect x="388.3" y="851.0" width="7.3" height="7.3" fill="#b8c8ff"/><rect x="395.3" y="851.0" width="7.3" height="7.3" fill="#bbc8ff"/><rect x="402.3" y="851.0" width="7.3" height="7.3" fill="#bdc8ff"/><rect x="409.3" y="851.0" width="7.3" height="7.3" fill="#c0c8ff"/><rect x="416.3" y="851.0" width="7.3" height="7.3" fill="#c3c8ff"/><rect x="423.3" y="851.0" width="7.3" height="7.3" fill="#c6c8ff"/><rect x="430.3" y="851.0" width="7.3" height="7.3" fill="#c9c8ff"/><rect x="437.3" y="851.0" width="7.3" height="7.3" fill="#ccc7ff"/><rect x="444.3" y="851.0" width="7.3" height="7.3" fill="#d1c7ff"/><rect x="451.3" y="851.0" width="7.3" height="7.3" fill="#d6c7ff"/><rect x="458.3" y="851.0" width="7.3" height="7.3" fill="#dac7ff"/><rect x="465.3" y="851.0" width="7.3" height="7.3" fill="#dfc7ff"/><rect x="472.3" y="851.0" width="7.3" height="7.3" fill="#e4c7ff"/><rect x="479.3" y="851.0" width="7.3" height="7.3" fill="#e8c7ff"/><rect x="486.3" y="851.0" width="7.3" height="7.3" fill="#ecc6fe"/><rect x="493.3" y="851.0" width="7.3" height="7.3" fill="#efc4fe"/><rect x="500.3" y="851.0" width="7.3" height="7.3" fill="#f3c2fd"/><rect x="507.3" y="851.0" width="7.3" height="7.3" fill="#f6c1fd"/><rect x="514.3" y="851.0" width="7.3" height="7.3" fill="#fabffc"/><rect x="521.3" y="851.0" width="7.3" height="7.3" fill="#fcbdfa"/><rect x="528.3" y="851.0" width="7.3" height="7.3" fill="#fcbbf5"/><rect x="535.3" y="851.0" width="7.3" height="7.3" fill="#fdb8f1"/><rect x="542.3" y="851.0" width="7.3" height="7.3" fill="#fdb5ec"/><rect x="549.3" y="851.0" width="7.3" height="7.3" fill="#feb2e8"/><rect x="556.3" y="851.0" width="7.3" height="7.3" fill="#feafe3"/><rect x="563.3" y="851.0" width="7.3" height="7.3" fill="#ffaddf"/><rect x="570.3" y="851.0" width="7.3" height="7.3" fill="#ffaada"/><rect x="577.3" y="851.0" width="7.3" height="7.3" fill="#ffa5d5"/><rect x="584.3" y="851.0" width="7.3" height="7.3" fill="#ffa1cf"/><rect x="591.3" y="851.0" width="7.3" height="7.3" fill="#ff9dca"/><rect x="598.3" y="851.0" width="7.3" height="7.3" fill="#ff98c5"/><rect x="605.3" y="851.0" width="7.3" height="7.3" fill="#ff94c0"/><rect x="612.3" y="851.0" width="7.3" height="7.3" fill="#ff90bb"/><rect x="619.3" y="851.0" width="7.3" height="7.3" fill="#ff8bb5"/><rect x="626.3" y="851.0" width="7.3" height="7.3" fill="#ff87b0"/><rect x="633.3" y="851.0" width="7.3" height="7.3" fill="#ff83ab"/><rect x="640.3" y="851.0" width="7.3" height="7.3" fill="#ff7ea6"/><rect x="367.3" y="858.0" width="7.3" height="7.3" fill="#b0c5ff"/><rect x="374.3" y="858.0" width="7.3" height="7.3" fill="#b3c5ff"/><rect x="381.3" y="858.0" width="7.3" height="7.3" fill="#b6c5ff"/><rect x="388.3" y="858.0" width="7.3" height="7.3" fill="#b8c5ff"/><rect x="395.3" y="858.0" width="7.3" height="7.3" fill="#bbc5ff"/><rect x="402.3" y="858.0" width="7.3" height="7.3" fill="#bec5ff"/><rect x="409.3" y="858.0" width="7.3" height="7.3" fill="#c1c4ff"/><rect x="416.3" y="858.0" width="7.3" height="7.3" fill="#c4c4ff"/><rect x="423.3" y="858.0" width="7.3" height="7.3" fill="#c6c4ff"/><rect x="430.3" y="858.0" width="7.3" height="7.3" fill="#c9c4ff"/><rect x="437.3" y="858.0" width="7.3" height="7.3" fill="#ccc4ff"/><rect x="444.3" y="858.0" width="7.3" height="7.3" fill="#d1c4ff"/><rect x="451.3" y="858.0" width="7.3" height="7.3" fill="#d5c4ff"/><rect x="458.3" y="858.0" width="7.3" height="7.3" fill="#dac4ff"/><rect x="465.3" y="858.0" width="7.3" height="7.3" fill="#dfc4ff"/><rect x="472.3" y="858.0" width="7.3" height="7.3" fill="#e3c4ff"/><rect x="479.3" y="858.0" width="7.3" height="7.3" fill="#e8c3ff"/><rect x="486.3" y="858.0" width="7.3" height="7.3" fill="#ebc2fe"/><rect x="493.3" y="858.0" width="7.3" height="7.3" fill="#efc0fe"/><rect x="500.3" y="858.0" width="7.3" height="7.3" fill="#f2befd"/><rect x="507.3" y="858.0" width="7.3" height="7.3" fill="#f6bdfd"/><rect x="514.3" y="858.0" width="7.3" height="7.3" fill="#fabbfc"/><rect x="521.3" y="858.0" width="7.3" height="7.3" fill="#fcb9fa"/><rect x="528.3" y="858.0" width="7.3" height="7.3" fill="#fcb6f5"/><rect x="535.3" y="858.0" width="7.3" height="7.3" fill="#fdb3f1"/><rect x="542.3" y="858.0" width="7.3" height="7.3" fill="#fdb1ec"/><rect x="549.3" y="858.0" width="7.3" height="7.3" fill="#feaee7"/><rect x="556.3" y="858.0" width="7.3" height="7.3" fill="#feabe3"/><rect x="563.3" y="858.0" width="7.3" height="7.3" fill="#ffa8de"/><rect x="570.3" y="858.0" width="7.3" height="7.3" fill="#ffa5d9"/><rect x="577.3" y="858.0" width="7.3" height="7.3" fill="#ffa1d4"/><rect x="584.3" y="858.0" width="7.3" height="7.3" fill="#ff9dce"/><rect x="591.3" y="858.0" width="7.3" height="7.3" fill="#ff98c9"/><rect x="598.3" y="858.0" width="7.3" height="7.3" fill="#ff94c4"/><rect x="605.3" y="858.0" width="7.3" height="7.3" fill="#ff90be"/><rect x="612.3" y="858.0" width="7.3" height="7.3" fill="#ff8cb9"/><rect x="619.3" y="858.0" width="7.3" height="7.3" fill="#ff87b4"/><rect x="626.3" y="858.0" width="7.3" height="7.3" fill="#ff83ae"/><rect x="633.3" y="858.0" width="7.3" height="7.3" fill="#ff7fa9"/><rect x="640.3" y="858.0" width="7.3" height="7.3" fill="#ff7ba3"/></g></g>
<rect x="380.7" y="661.4" width="246.60000000000002" height="188.99999999999994" fill="none" stroke="#8a8a8a" stroke-width="1.3"/>
<g clip-path="url(#cieclip)"><polyline points="408.0,854.2 417.7,846.0 427.3,837.9 437.0,829.9 446.6,822.0 456.3,814.2 465.9,806.5 475.6,798.9 485.2,791.3 494.9,783.9 504.5,776.6 514.2,769.4 523.8,762.3 533.5,755.2 543.1,748.3 552.8,741.5 562.4,734.8 572.1,728.1 581.7,721.6 591.4,715.1 601.0,708.8 610.7,702.6 620.3,696.4 630.0,690.4" fill="none" stroke="#000" stroke-width="2.7"/></g>
<circle cx="463.5" cy="799.9" r="4.75" fill="#fff" stroke="#000" stroke-width="1.4"/>
<rect x="495.0" y="747.9" width="14.8" height="16.0" fill="none" stroke="#000" stroke-width="2.0"/>
<line x1="374.7" y1="677.9" x2="381.3" y2="677.9" stroke="#d8d8d8" stroke-width="1.4"/>
<text x="345.01" y="683.80" font-size="14.80" fill="#d2d2d2" textLength="30.25" lengthAdjust="spacingAndGlyphs">0,35</text>
<line x1="374.7" y1="716.0" x2="381.3" y2="716.0" stroke="#d8d8d8" stroke-width="1.4"/>
<text x="344.81" y="721.90" font-size="14.80" fill="#d2d2d2" textLength="30.25" lengthAdjust="spacingAndGlyphs">0,34</text>
<line x1="374.7" y1="753.3" x2="381.3" y2="753.3" stroke="#d8d8d8" stroke-width="1.4"/>
<text x="345.04" y="759.20" font-size="14.80" fill="#d2d2d2" textLength="30.25" lengthAdjust="spacingAndGlyphs">0,33</text>
<line x1="374.7" y1="790.4" x2="381.3" y2="790.4" stroke="#d8d8d8" stroke-width="1.4"/>
<text x="345.14" y="796.30" font-size="14.80" fill="#d2d2d2" textLength="30.25" lengthAdjust="spacingAndGlyphs">0,32</text>
<line x1="374.7" y1="827.2" x2="381.3" y2="827.2" stroke="#d8d8d8" stroke-width="1.4"/>
<text x="345.11" y="833.10" font-size="14.80" fill="#d2d2d2" textLength="30.25" lengthAdjust="spacingAndGlyphs">0,31</text>
<line x1="391.4" y1="849.8" x2="391.4" y2="857" stroke="#d8d8d8" stroke-width="1.4"/>
<text x="376.34" y="874.00" font-size="14.80" fill="#d2d2d2" textLength="30.25" lengthAdjust="spacingAndGlyphs">0,29</text>
<line x1="440.3" y1="849.8" x2="440.3" y2="857" stroke="#d8d8d8" stroke-width="1.4"/>
<text x="429.54" y="874.00" font-size="14.80" fill="#d2d2d2" textLength="21.60" lengthAdjust="spacingAndGlyphs">0,3</text>
<line x1="489.2" y1="849.8" x2="489.2" y2="857" stroke="#d8d8d8" stroke-width="1.4"/>
<text x="474.15" y="874.00" font-size="14.80" fill="#d2d2d2" textLength="30.25" lengthAdjust="spacingAndGlyphs">0,31</text>
<line x1="538.1" y1="849.8" x2="538.1" y2="857" stroke="#d8d8d8" stroke-width="1.4"/>
<text x="523.06" y="874.00" font-size="14.80" fill="#d2d2d2" textLength="30.25" lengthAdjust="spacingAndGlyphs">0,32</text>
<line x1="587.0" y1="849.8" x2="587.0" y2="857" stroke="#d8d8d8" stroke-width="1.4"/>
<text x="571.92" y="874.00" font-size="14.80" fill="#d2d2d2" textLength="30.25" lengthAdjust="spacingAndGlyphs">0,33</text>
<rect x="639" y="653" width="13.8" height="217" fill="#262626"/>
<rect x="639" y="653.0" width="13.8" height="30.600000000000023" fill="#000"/>
<rect x="652.8" y="653.0" width="1039.0" height="16" fill="#2e2e2e"/>
<rect x="652.8" y="669.0" width="1039.0" height="14.600000000000023" fill="#141414"/>
<g clip-path="url(#tclip)"><rect x="652.8" y="683.60" width="1039.0" height="28.17" fill="#3c3c3c"/>
<text x="656.83" y="704.90" font-size="18.10" fill="#f2f2f2" textLength="56.89" lengthAdjust="spacingAndGlyphs">x: CIE31</text>
<text x="790.37" y="704.90" font-size="18.10" fill="#f2f2f2" textLength="48.99" lengthAdjust="spacingAndGlyphs">0,2625</text>
<text x="885.47" y="704.90" font-size="18.10" fill="#f2f2f2" textLength="48.99" lengthAdjust="spacingAndGlyphs">0,2470</text>
<text x="980.57" y="704.90" font-size="18.10" fill="#f2f2f2" textLength="48.99" lengthAdjust="spacingAndGlyphs">0,2487</text>
<text x="1075.67" y="704.90" font-size="18.10" fill="#f2f2f2" textLength="48.99" lengthAdjust="spacingAndGlyphs">0,2519</text>
<text x="1170.77" y="704.90" font-size="18.10" fill="#f2f2f2" textLength="48.99" lengthAdjust="spacingAndGlyphs">0,2548</text>
<text x="1265.87" y="704.90" font-size="18.10" fill="#f2f2f2" textLength="48.99" lengthAdjust="spacingAndGlyphs">0,2581</text>
<text x="1360.97" y="704.90" font-size="18.10" fill="#f2f2f2" textLength="48.99" lengthAdjust="spacingAndGlyphs">0,2621</text>
<text x="1456.07" y="704.90" font-size="18.10" fill="#f2f2f2" textLength="48.99" lengthAdjust="spacingAndGlyphs">0,2676</text>
<text x="1551.17" y="704.90" font-size="18.10" fill="#f2f2f2" textLength="48.99" lengthAdjust="spacingAndGlyphs">0,2737</text>
<text x="1646.27" y="704.90" font-size="18.10" fill="#f2f2f2" textLength="48.99" lengthAdjust="spacingAndGlyphs">0,2840</text>
<rect x="652.8" y="711.67" width="1039.0" height="28.17" fill="#868686"/>
<text x="656.96" y="732.97" font-size="18.10" fill="#f2f2f2" textLength="56.76" lengthAdjust="spacingAndGlyphs">y: CIE31</text>
<text x="790.37" y="732.97" font-size="18.10" fill="#f2f2f2" textLength="48.99" lengthAdjust="spacingAndGlyphs">0,2440</text>
<text x="885.47" y="732.97" font-size="18.10" fill="#f2f2f2" textLength="48.99" lengthAdjust="spacingAndGlyphs">0,2462</text>
<text x="980.57" y="732.97" font-size="18.10" fill="#f2f2f2" textLength="48.99" lengthAdjust="spacingAndGlyphs">0,2515</text>
<text x="1075.67" y="732.97" font-size="18.10" fill="#f2f2f2" textLength="48.99" lengthAdjust="spacingAndGlyphs">0,2560</text>
<text x="1170.77" y="732.97" font-size="18.10" fill="#f2f2f2" textLength="48.99" lengthAdjust="spacingAndGlyphs">0,2602</text>
<text x="1265.87" y="732.97" font-size="18.10" fill="#f2f2f2" textLength="48.99" lengthAdjust="spacingAndGlyphs">0,2645</text>
<text x="1360.97" y="732.97" font-size="18.10" fill="#f2f2f2" textLength="48.99" lengthAdjust="spacingAndGlyphs">0,2696</text>
<text x="1456.07" y="732.97" font-size="18.10" fill="#f2f2f2" textLength="48.99" lengthAdjust="spacingAndGlyphs">0,2763</text>
<text x="1551.17" y="732.97" font-size="18.10" fill="#f2f2f2" textLength="48.99" lengthAdjust="spacingAndGlyphs">0,2837</text>
<text x="1646.27" y="732.97" font-size="18.10" fill="#f2f2f2" textLength="48.99" lengthAdjust="spacingAndGlyphs">0,2956</text>
<rect x="652.8" y="739.74" width="1039.0" height="28.17" fill="#3c3c3c"/>
<text x="656.79" y="761.04" font-size="18.10" fill="#f2f2f2" textLength="9.42" lengthAdjust="spacingAndGlyphs">Y</text>
<text x="790.37" y="761.04" font-size="18.10" fill="#f2f2f2" textLength="48.99" lengthAdjust="spacingAndGlyphs">0,2908</text>
<text x="885.29" y="761.04" font-size="18.10" fill="#f2f2f2" textLength="48.99" lengthAdjust="spacingAndGlyphs">2,8062</text>
<text x="979.98" y="761.04" font-size="18.10" fill="#f2f2f2" textLength="57.90" lengthAdjust="spacingAndGlyphs">11,4054</text>
<text x="1075.49" y="761.04" font-size="18.10" fill="#f2f2f2" textLength="57.90" lengthAdjust="spacingAndGlyphs">28,2853</text>
<text x="1170.76" y="761.04" font-size="18.10" fill="#f2f2f2" textLength="57.90" lengthAdjust="spacingAndGlyphs">51,5542</text>
<text x="1265.68" y="761.04" font-size="18.10" fill="#f2f2f2" textLength="57.90" lengthAdjust="spacingAndGlyphs">79,1122</text>
<text x="1360.38" y="761.04" font-size="18.10" fill="#f2f2f2" textLength="66.81" lengthAdjust="spacingAndGlyphs">114,8890</text>
<text x="1455.48" y="761.04" font-size="18.10" fill="#f2f2f2" textLength="66.81" lengthAdjust="spacingAndGlyphs">161,2632</text>
<text x="1550.99" y="761.04" font-size="18.10" fill="#f2f2f2" textLength="66.81" lengthAdjust="spacingAndGlyphs">207,9771</text>
<text x="1646.09" y="761.04" font-size="18.10" fill="#f2f2f2" textLength="66.81" lengthAdjust="spacingAndGlyphs">268,5912</text>
<rect x="652.8" y="767.81" width="1039.0" height="28.17" fill="#868686"/>
<text x="657.76" y="789.11" font-size="18.10" fill="#f2f2f2" textLength="58.17" lengthAdjust="spacingAndGlyphs">Target Y</text>
<text x="790.37" y="789.11" font-size="18.10" fill="#f2f2f2" textLength="48.99" lengthAdjust="spacingAndGlyphs">0,2908</text>
<text x="885.29" y="789.11" font-size="18.10" fill="#f2f2f2" textLength="48.99" lengthAdjust="spacingAndGlyphs">2,4818</text>
<text x="980.45" y="789.11" font-size="18.10" fill="#f2f2f2" textLength="48.99" lengthAdjust="spacingAndGlyphs">9,9320</text>
<text x="1075.49" y="789.11" font-size="18.10" fill="#f2f2f2" textLength="57.90" lengthAdjust="spacingAndGlyphs">23,4719</text>
<text x="1171.03" y="789.11" font-size="18.10" fill="#f2f2f2" textLength="57.90" lengthAdjust="spacingAndGlyphs">44,5664</text>
<text x="1265.68" y="789.11" font-size="18.10" fill="#f2f2f2" textLength="57.90" lengthAdjust="spacingAndGlyphs">73,2414</text>
<text x="1360.38" y="789.11" font-size="18.10" fill="#f2f2f2" textLength="66.81" lengthAdjust="spacingAndGlyphs">108,2918</text>
<text x="1455.48" y="789.11" font-size="18.10" fill="#f2f2f2" textLength="66.81" lengthAdjust="spacingAndGlyphs">150,9443</text>
<text x="1550.99" y="789.11" font-size="18.10" fill="#f2f2f2" textLength="66.81" lengthAdjust="spacingAndGlyphs">203,6179</text>
<text x="1646.09" y="789.11" font-size="18.10" fill="#f2f2f2" textLength="66.81" lengthAdjust="spacingAndGlyphs">265,0012</text>
<rect x="652.8" y="795.88" width="1039.0" height="28.17" fill="#3c3c3c"/>
<text x="656.56" y="817.18" font-size="18.10" fill="#f2f2f2" textLength="124.92" lengthAdjust="spacingAndGlyphs">Gamma Log/Log</text>
<text x="789.78" y="817.18" font-size="18.10" fill="#f2f2f2" textLength="48.99" lengthAdjust="spacingAndGlyphs">1,0193</text>
<text x="885.29" y="817.18" font-size="18.10" fill="#f2f2f2" textLength="48.99" lengthAdjust="spacingAndGlyphs">2,0912</text>
<text x="980.39" y="817.18" font-size="18.10" fill="#f2f2f2" textLength="48.99" lengthAdjust="spacingAndGlyphs">2,0954</text>
<text x="1075.49" y="817.18" font-size="18.10" fill="#f2f2f2" textLength="48.99" lengthAdjust="spacingAndGlyphs">2,0355</text>
<text x="1170.59" y="817.18" font-size="18.10" fill="#f2f2f2" textLength="48.99" lengthAdjust="spacingAndGlyphs">2,0341</text>
<text x="1265.69" y="817.18" font-size="18.10" fill="#f2f2f2" textLength="48.99" lengthAdjust="spacingAndGlyphs">2,0828</text>
<text x="1360.79" y="817.18" font-size="18.10" fill="#f2f2f2" textLength="48.99" lengthAdjust="spacingAndGlyphs">2,0799</text>
<text x="1455.89" y="817.18" font-size="18.10" fill="#f2f2f2" textLength="48.99" lengthAdjust="spacingAndGlyphs">2,0123</text>
<text x="1550.99" y="817.18" font-size="18.10" fill="#f2f2f2" textLength="48.99" lengthAdjust="spacingAndGlyphs">2,1018</text>
<text x="1646.09" y="817.18" font-size="18.10" fill="#f2f2f2" textLength="48.99" lengthAdjust="spacingAndGlyphs">2,0664</text>
<rect x="652.8" y="823.95" width="1039.0" height="28.17" fill="#868686"/>
<text x="656.68" y="845.25" font-size="18.10" fill="#f2f2f2" textLength="29.04" lengthAdjust="spacingAndGlyphs">CCT</text>
<text x="789.78" y="845.25" font-size="18.10" fill="#f2f2f2" textLength="84.63" lengthAdjust="spacingAndGlyphs">19556,3251</text>
<text x="885.29" y="845.25" font-size="18.10" fill="#f2f2f2" textLength="84.63" lengthAdjust="spacingAndGlyphs">23479,9948</text>
<text x="980.39" y="845.25" font-size="18.10" fill="#f2f2f2" textLength="84.63" lengthAdjust="spacingAndGlyphs">20856,5392</text>
<text x="1075.08" y="845.25" font-size="18.10" fill="#f2f2f2" textLength="84.63" lengthAdjust="spacingAndGlyphs">18658,9385</text>
<text x="1170.18" y="845.25" font-size="18.10" fill="#f2f2f2" textLength="84.63" lengthAdjust="spacingAndGlyphs">16971,5543</text>
<text x="1265.28" y="845.25" font-size="18.10" fill="#f2f2f2" textLength="84.63" lengthAdjust="spacingAndGlyphs">15473,3764</text>
<text x="1360.38" y="845.25" font-size="18.10" fill="#f2f2f2" textLength="84.63" lengthAdjust="spacingAndGlyphs">13979,8614</text>
<text x="1455.48" y="845.25" font-size="18.10" fill="#f2f2f2" textLength="84.63" lengthAdjust="spacingAndGlyphs">12368,4881</text>
<text x="1550.58" y="845.25" font-size="18.10" fill="#f2f2f2" textLength="84.63" lengthAdjust="spacingAndGlyphs">10953,6846</text>
<text x="1646.15" y="845.25" font-size="18.10" fill="#f2f2f2" textLength="75.72" lengthAdjust="spacingAndGlyphs">9223,6512</text>
<rect x="652.8" y="852.02" width="1039.0" height="28.17" fill="#3c3c3c"/>
<text x="657.63" y="873.32" font-size="18.10" fill="#f2f2f2" textLength="59.98" lengthAdjust="spacingAndGlyphs">ΔE 2000</text>
<text x="789.78" y="873.32" font-size="18.10" fill="#f2f2f2" textLength="48.99" lengthAdjust="spacingAndGlyphs">1,3083</text>
<text x="885.40" y="873.32" font-size="18.10" fill="#f2f2f2" textLength="48.99" lengthAdjust="spacingAndGlyphs">8,1781</text>
<text x="979.98" y="873.32" font-size="18.10" fill="#f2f2f2" textLength="57.90" lengthAdjust="spacingAndGlyphs">11,1545</text>
<text x="1075.08" y="873.32" font-size="18.10" fill="#f2f2f2" textLength="57.90" lengthAdjust="spacingAndGlyphs">13,4104</text>
<text x="1170.18" y="873.32" font-size="18.10" fill="#f2f2f2" textLength="57.90" lengthAdjust="spacingAndGlyphs">14,7401</text>
<text x="1265.28" y="873.32" font-size="18.10" fill="#f2f2f2" textLength="57.90" lengthAdjust="spacingAndGlyphs">15,2979</text>
<text x="1360.38" y="873.32" font-size="18.10" fill="#f2f2f2" textLength="57.90" lengthAdjust="spacingAndGlyphs">15,6294</text>
<text x="1455.48" y="873.32" font-size="18.10" fill="#f2f2f2" textLength="57.90" lengthAdjust="spacingAndGlyphs">15,5170</text>
<text x="1550.58" y="873.32" font-size="18.10" fill="#f2f2f2" textLength="57.90" lengthAdjust="spacingAndGlyphs">14,7295</text>
<text x="1645.68" y="873.32" font-size="18.10" fill="#f2f2f2" textLength="57.90" lengthAdjust="spacingAndGlyphs">12,5680</text>
<text x="790.38" y="675.10" font-size="15.80" fill="#f4f4f0" textLength="8.79" lengthAdjust="spacingAndGlyphs" stroke="#f4f4f0" stroke-width="0.55">0</text>
<text x="884.90" y="675.10" font-size="15.80" fill="#f4f4f0" textLength="17.57" lengthAdjust="spacingAndGlyphs" stroke="#f4f4f0" stroke-width="0.55">10</text>
<text x="980.41" y="675.10" font-size="15.80" fill="#f4f4f0" textLength="17.57" lengthAdjust="spacingAndGlyphs" stroke="#f4f4f0" stroke-width="0.55">20</text>
<text x="1075.70" y="675.10" font-size="15.80" fill="#f4f4f0" textLength="17.57" lengthAdjust="spacingAndGlyphs" stroke="#f4f4f0" stroke-width="0.55">30</text>
<text x="1171.04" y="675.10" font-size="15.80" fill="#f4f4f0" textLength="17.57" lengthAdjust="spacingAndGlyphs" stroke="#f4f4f0" stroke-width="0.55">40</text>
<text x="1265.87" y="675.10" font-size="15.80" fill="#f4f4f0" textLength="17.57" lengthAdjust="spacingAndGlyphs" stroke="#f4f4f0" stroke-width="0.55">50</text>
<text x="1360.80" y="675.10" font-size="15.80" fill="#f4f4f0" textLength="17.57" lengthAdjust="spacingAndGlyphs" stroke="#f4f4f0" stroke-width="0.55">60</text>
<text x="1455.89" y="675.10" font-size="15.80" fill="#f4f4f0" textLength="17.57" lengthAdjust="spacingAndGlyphs" stroke="#f4f4f0" stroke-width="0.55">70</text>
<text x="1551.11" y="675.10" font-size="15.80" fill="#f4f4f0" textLength="17.57" lengthAdjust="spacingAndGlyphs" stroke="#f4f4f0" stroke-width="0.55">80</text>
<text x="1646.16" y="675.10" font-size="15.80" fill="#f4f4f0" textLength="17.57" lengthAdjust="spacingAndGlyphs" stroke="#f4f4f0" stroke-width="0.55">90</text></g>
<rect x="639" y="683.60" width="13.8" height="14.04" fill="#2c2c2c"/>
<rect x="639" y="697.63" width="13.8" height="14.04" fill="#1e1e1e"/>
<rect x="639" y="711.67" width="13.8" height="14.04" fill="#2c2c2c"/>
<rect x="639" y="725.71" width="13.8" height="14.04" fill="#1e1e1e"/>
<rect x="639" y="739.74" width="13.8" height="14.04" fill="#2c2c2c"/>
<rect x="639" y="753.77" width="13.8" height="14.04" fill="#1e1e1e"/>
<rect x="639" y="767.81" width="13.8" height="14.04" fill="#2c2c2c"/>
<rect x="639" y="781.85" width="13.8" height="14.04" fill="#1e1e1e"/>
<rect x="639" y="795.88" width="13.8" height="14.04" fill="#2c2c2c"/>
<rect x="639" y="809.91" width="13.8" height="14.04" fill="#1e1e1e"/>
<rect x="639" y="823.95" width="13.8" height="14.04" fill="#2c2c2c"/>
<rect x="639" y="837.99" width="13.8" height="14.04" fill="#1e1e1e"/>
<rect x="639" y="852.02" width="13.8" height="14.04" fill="#2c2c2c"/>
<rect x="639" y="866.05" width="13.8" height="14.04" fill="#1e1e1e"/>
<rect x="639" y="870" width="14" height="18" fill="#333"/>
<rect x="652.8" y="870.2" width="1039" height="17.6" fill="#575757"/>
<rect x="670" y="871.6" width="898" height="14.6" rx="7" fill="#3e3e3e"/>
<rect x="654.2" y="871.3" width="14" height="14.8" rx="2.5" fill="#6c6c6c" stroke="#777" stroke-width="0.8"/>
<path d="M658.5 878.6 L664 874.3 L664 883 Z" fill="#2a2a2a"/>
<rect x="1676.6" y="871.3" width="13.6" height="14.8" rx="2.5" fill="#6c6c6c" stroke="#777" stroke-width="0.8"/>
<path d="M1686.2 878.6 L1680.8 874.3 L1680.8 883 Z" fill="#2a2a2a"/>
<rect x="1692" y="870" width="23" height="18" fill="#2c2c2c"/>
<rect x="1692.8" y="684.6" width="16" height="185" rx="2" fill="#585858"/>
<rect x="1694.2" y="700.8" width="13.2" height="127.5" rx="6.6" fill="#444"/>
<rect x="1693.6" y="685.6" width="13.6" height="14.2" rx="2.5" fill="#727272" stroke="#7c7c7c" stroke-width="0.8"/>
<path d="M1700.3 690.0 L1705.4 695.8 L1695.2 695.8 Z" fill="#2e2e2e"/>
<rect x="1693.6" y="853.8" width="13.6" height="14.2" rx="2.5" fill="#727272" stroke="#7c7c7c" stroke-width="0.8"/>
<path d="M1700.3 864.6 L1705.4 858.8 L1695.2 858.8 Z" fill="#2e2e2e"/>
<rect x="0" y="887.8" width="1715" height="62.2" fill="#2a2a2a"/>
<path d="M0.0 950 L0.0 893.0 Q0.0 889 4.0 889 L120.5 889 Q124.5 889 124.5 893 L124.5 950 Z" fill="url(#btn)"/>
<rect x="4.3" y="894.3" width="115.5" height="35.6" rx="3.5" fill="#000000" stroke="#c4c4c4" stroke-width="1.1"/>
<text x="58.59" y="945.20" font-size="11.40" fill="#424242" textLength="6.02" lengthAdjust="spacingAndGlyphs" stroke="#424242" stroke-width="0.3">0</text>
<path d="M126.7 950 L126.7 893.0 Q126.7 889 130.7 889 L247.2 889 Q251.2 889 251.2 893 L251.2 950 Z" fill="url(#btn)"/>
<rect x="131.0" y="894.3" width="115.5" height="35.6" rx="3.5" fill="#1a1a1a" stroke="#c4c4c4" stroke-width="1.1"/>
<text x="182.08" y="945.20" font-size="11.40" fill="#424242" textLength="12.05" lengthAdjust="spacingAndGlyphs" stroke="#424242" stroke-width="0.3">10</text>
<path d="M253.4 950 L253.4 893.0 Q253.4 889 257.4 889 L373.9 889 Q377.9 889 377.9 893 L377.9 950 Z" fill="url(#btn)"/>
<rect x="257.7" y="894.3" width="115.5" height="35.6" rx="3.5" fill="#333333" stroke="#c4c4c4" stroke-width="1.1"/>
<text x="308.92" y="945.20" font-size="11.40" fill="#424242" textLength="12.05" lengthAdjust="spacingAndGlyphs" stroke="#424242" stroke-width="0.3">20</text>
<path d="M380.1 950 L380.1 893.0 Q380.1 889 384.1 889 L500.6 889 Q504.6 889 504.6 893 L504.6 950 Z" fill="url(#btn)"/>
<rect x="384.4" y="894.3" width="115.5" height="35.6" rx="3.5" fill="#4c4c4c" stroke="#c4c4c4" stroke-width="1.1"/>
<text x="435.68" y="945.20" font-size="11.40" fill="#424242" textLength="12.05" lengthAdjust="spacingAndGlyphs" stroke="#424242" stroke-width="0.3">30</text>
<path d="M506.8 950 L506.8 893.0 Q506.8 889 510.8 889 L627.3 889 Q631.3 889 631.3 893 L631.3 950 Z" fill="url(#btn)"/>
<rect x="511.1" y="894.3" width="115.5" height="35.6" rx="3.5" fill="#666666" stroke="#c4c4c4" stroke-width="1.1"/>
<text x="562.46" y="945.20" font-size="11.40" fill="#424242" textLength="12.05" lengthAdjust="spacingAndGlyphs" stroke="#424242" stroke-width="0.3">40</text>
<path d="M633.5 950 L633.5 893.0 Q633.5 889 637.5 889 L754.0 889 Q758.0 889 758.0 893 L758.0 950 Z" fill="url(#btn)"/>
<rect x="637.8" y="894.3" width="115.5" height="35.6" rx="3.5" fill="#808080" stroke="#c4c4c4" stroke-width="1.1"/>
<text x="689.07" y="945.20" font-size="11.40" fill="#424242" textLength="12.05" lengthAdjust="spacingAndGlyphs" stroke="#424242" stroke-width="0.3">50</text>
<path d="M760.2 950 L760.2 893.0 Q760.2 889 764.2 889 L880.7 889 Q884.7 889 884.7 893 L884.7 950 Z" fill="url(#btn)"/>
<rect x="764.5" y="894.3" width="115.5" height="35.6" rx="3.5" fill="#999999" stroke="#c4c4c4" stroke-width="1.1"/>
<text x="815.71" y="945.20" font-size="11.40" fill="#424242" textLength="12.05" lengthAdjust="spacingAndGlyphs" stroke="#424242" stroke-width="0.3">60</text>
<path d="M886.9 950 L886.9 893.0 Q886.9 889 890.9 889 L1007.4 889 Q1011.4 889 1011.4 893 L1011.4 950 Z" fill="url(#btn)"/>
<rect x="891.2" y="894.3" width="115.5" height="35.6" rx="3.5" fill="#b2b2b2" stroke="#c4c4c4" stroke-width="1.1"/>
<text x="942.41" y="945.20" font-size="11.40" fill="#424242" textLength="12.05" lengthAdjust="spacingAndGlyphs" stroke="#424242" stroke-width="0.3">70</text>
<path d="M1013.6 950 L1013.6 893.0 Q1013.6 889 1017.6 889 L1134.1 889 Q1138.1 889 1138.1 893 L1138.1 950 Z" fill="url(#btn)"/>
<rect x="1017.9" y="894.3" width="115.5" height="35.6" rx="3.5" fill="#cccccc" stroke="#c4c4c4" stroke-width="1.1"/>
<text x="1069.15" y="945.20" font-size="11.40" fill="#424242" textLength="12.05" lengthAdjust="spacingAndGlyphs" stroke="#424242" stroke-width="0.3">80</text>
<path d="M1140.3 950 L1140.3 893.0 Q1140.3 889 1144.3 889 L1260.8 889 Q1264.8 889 1264.8 893 L1264.8 950 Z" fill="url(#btn)"/>
<rect x="1144.6" y="894.3" width="115.5" height="35.6" rx="3.5" fill="#e6e6e6" stroke="#c4c4c4" stroke-width="1.1"/>
<text x="1195.83" y="945.20" font-size="11.40" fill="#424242" textLength="12.05" lengthAdjust="spacingAndGlyphs" stroke="#424242" stroke-width="0.3">90</text>
<path d="M1267.0 950 L1267.0 893.0 Q1267.0 889 1271.0 889 L1388.2 889 Q1392.2 889 1392.2 893 L1392.2 950 Z" fill="url(#btnsel)"/>
<rect x="1271.3" y="894.3" width="116.2" height="35.6" rx="3.5" fill="#ffffff" stroke="#e8e8e8" stroke-width="1.1"/>
<text x="1320.58" y="944.90" font-size="11.60" fill="#d4d8e4" font-weight="bold" textLength="17.81" lengthAdjust="spacingAndGlyphs">100</text>
<rect x="1392.5" y="887.8" width="322.5" height="62.2" fill="#2a2a2a"/>
<rect x="1395" y="889" width="48" height="17.6" rx="2" fill="url(#cbtn)"/>
<circle cx="1419" cy="898" r="7.2" fill="url(#icirc)"/>
<path d="M1419 894.6 L1423 899.2 L1415 899.2 Z" fill="#2e2e2e"/>
<rect x="1395" y="907.6" width="48" height="42.4" rx="2" fill="url(#cbtn)"/>
<rect x="1403.6" y="913.2" width="30.6" height="31.4" rx="4" fill="#9a9a9a" stroke="#1a1a1a" stroke-width="2.2"/>
<rect x="1411.8" y="922.3" width="14" height="14" fill="#111"/>
<rect x="1444.2" y="888.8" width="46.0" height="29.8" fill="url(#cbtn)"/>
<rect x="1491.2" y="888.8" width="44.2" height="29.8" fill="url(#cbtn)"/>
<rect x="1536.4" y="888.8" width="43.6" height="29.8" fill="url(#cbtn)"/>
<rect x="1581" y="888.8" width="44.0" height="29.8" fill="url(#cbtn)"/>
<rect x="1626" y="888.8" width="44.0" height="29.8" fill="url(#cbtn)"/>
<rect x="1670" y="888.8" width="45" height="29.8" fill="#2c2c2c"/>
<circle cx="1694.2" cy="904" r="10" fill="#262626"/>
<circle cx="1466.9" cy="904" r="9.8" fill="url(#icirc)"/>
<circle cx="1513.2" cy="904" r="9.8" fill="url(#icirc)"/>
<circle cx="1557.9" cy="904" r="9.8" fill="url(#icirc)"/>
<circle cx="1602.8" cy="904" r="9.8" fill="url(#icirc)"/>
<circle cx="1647.7" cy="904" r="9.8" fill="url(#icirc)"/>
<rect x="1462.6" y="899.6" width="8.8" height="8.8" fill="#222"/>
<path d="M1510 898.6 L1518.6 904.3 L1510 910 Z" fill="#222"/>
<path d="M1554.6 899.6 h-1.9 v9.6 h1.9 M1561.4 899.6 h1.9 v9.6 h-1.9" fill="none" stroke="#1e1e1e" stroke-width="1.9"/>
<rect x="1555.7" y="903" width="1.7" height="1.7" fill="#222"/><rect x="1558.7" y="903" width="1.7" height="1.7" fill="#222"/>
<path d="M1602.8 904 C1600 900.8 1596.6 900.8 1596.6 904 C1596.6 907.2 1600 907.2 1602.8 904 C1605.6 900.8 1609 900.8 1609 904 C1609 907.2 1605.6 907.2 1602.8 904 Z" fill="none" stroke="#222" stroke-width="1.9"/>
<path d="M1642.8 902.6 A5.2 5.2 0 0 1 1651.6 900.6 M1652.6 905.4 A5.2 5.2 0 0 1 1643.8 907.4" fill="none" stroke="#222" stroke-width="2"/>
<path d="M1653.5 897.6 L1653.2 902.6 L1648.8 900.6 Z M1641.9 910.4 L1642.2 905.4 L1646.6 907.4 Z" fill="#222"/>
<rect x="1444.2" y="920" width="135.6" height="30" fill="url(#cbtn)"/>
<rect x="1581" y="920" width="134" height="30" fill="url(#cbtn)"/>
<circle cx="1474.6" cy="935.4" r="9.8" fill="url(#icirc)"/>
<circle cx="1687.8" cy="935.4" r="9.8" fill="url(#icirc)"/>
<path d="M1473.6 930.6 L1469.4 935.4 L1473.6 940.2 M1478.6 930.6 L1474.4 935.4 L1478.6 940.2" fill="none" stroke="#2a2a2a" stroke-width="1.6"/>
<path d="M1684.4 930.6 L1688.6 935.4 L1684.4 940.2 M1689.4 930.6 L1693.6 935.4 L1689.4 940.2" fill="none" stroke="#2a2a2a" stroke-width="1.6"/>
<text x="1500.32" y="942.70" font-size="21.60" fill="#2e2e2e" textLength="50.84" lengthAdjust="spacingAndGlyphs" stroke="#2e2e2e" stroke-width="0.9">Back</text>
<text x="1606.80" y="942.70" font-size="21.60" fill="#2e2e2e" textLength="52.69" lengthAdjust="spacingAndGlyphs" stroke="#2e2e2e" stroke-width="0.9">Next</text>
</svg>
</body></html>
